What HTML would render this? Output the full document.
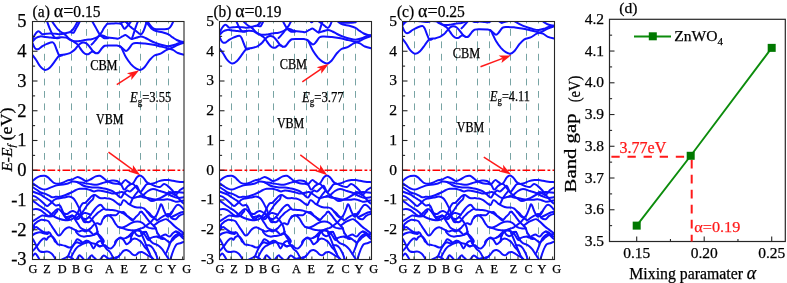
<!DOCTYPE html><html><head><meta charset="utf-8"><style>html,body{margin:0;padding:0;background:#fff;}svg{display:block;will-change:transform;}text{font-family:"Liberation Serif",serif;stroke:#000;stroke-width:0.25px;}</style></head><body>
<svg width="787" height="283" viewBox="0 0 787 283">
<rect x="0" y="0" width="787" height="283" fill="#fff"/>
<clipPath id="clipa"><rect x="32.5" y="21.5" width="151.5" height="238.0"/></clipPath>
<line x1="44.5" y1="21.5" x2="44.5" y2="259.5" stroke="#78a4a4" stroke-width="1" stroke-dasharray="6.8 5.6" stroke-dashoffset="4.90"/>
<line x1="59.5" y1="21.5" x2="59.5" y2="259.5" stroke="#78a4a4" stroke-width="1" stroke-dasharray="6.8 5.6" stroke-dashoffset="4.90"/>
<line x1="71.5" y1="21.5" x2="71.5" y2="259.5" stroke="#78a4a4" stroke-width="1" stroke-dasharray="6.8 5.6" stroke-dashoffset="4.90"/>
<line x1="86.5" y1="21.5" x2="86.5" y2="259.5" stroke="#78a4a4" stroke-width="1" stroke-dasharray="6.8 5.6" stroke-dashoffset="4.90"/>
<line x1="107.5" y1="21.5" x2="107.5" y2="259.5" stroke="#78a4a4" stroke-width="1" stroke-dasharray="6.8 5.6" stroke-dashoffset="4.90"/>
<line x1="119.5" y1="21.5" x2="119.5" y2="259.5" stroke="#78a4a4" stroke-width="1" stroke-dasharray="6.8 5.6" stroke-dashoffset="4.90"/>
<line x1="140.5" y1="21.5" x2="140.5" y2="259.5" stroke="#78a4a4" stroke-width="1" stroke-dasharray="6.8 5.6" stroke-dashoffset="4.90"/>
<line x1="156.5" y1="21.5" x2="156.5" y2="259.5" stroke="#78a4a4" stroke-width="1" stroke-dasharray="6.8 5.6" stroke-dashoffset="4.90"/>
<line x1="168.5" y1="21.5" x2="168.5" y2="259.5" stroke="#78a4a4" stroke-width="1" stroke-dasharray="6.8 5.6" stroke-dashoffset="4.90"/>
<line x1="32.5" y1="170.25" x2="184.0" y2="170.25" stroke="#ff0000" stroke-width="1.7" stroke-dasharray="7.7 2.3 2.8 2.2"/>
<g clip-path="url(#clipa)" fill="none" stroke="#1010ff" stroke-width="2" stroke-linejoin="round" stroke-linecap="round">
<g transform="translate(0.0,0)">
<path d="M32.5,55.0C33.1,55.8 35.0,58.1 36.2,60.0C37.5,61.9 38.5,64.4 40.0,66.1C41.5,67.8 43.3,69.7 45.0,69.9C46.7,70.1 48.4,68.9 50.0,67.4C51.6,66.0 53.4,63.2 54.9,61.2C56.4,59.2 57.6,56.7 59.3,55.6C61.0,54.5 63.1,55.0 64.9,54.6C66.7,54.2 68.6,53.6 69.9,53.1C71.2,52.6 71.6,52.0 72.5,51.4C73.4,50.8 74.3,50.1 75.1,49.3C75.9,48.5 76.4,47.5 77.3,46.5C78.2,45.5 79.2,44.3 80.2,43.6C81.2,42.9 82.3,42.5 83.3,42.5C84.3,42.5 85.4,42.7 86.4,43.4C87.4,44.1 88.4,45.3 89.4,46.5C90.4,47.7 91.5,49.5 92.5,50.6C93.5,51.7 94.6,52.8 95.6,53.1C96.6,53.4 97.6,53.4 98.6,52.6C99.6,51.8 100.7,49.6 101.7,48.5C102.7,47.4 103.5,46.3 104.8,45.8C106.1,45.3 107.6,45.4 109.7,45.4C111.8,45.4 115.4,45.4 117.2,45.6C119.0,45.8 119.6,45.8 120.5,46.5C121.4,47.2 121.5,48.1 122.4,49.9C123.3,51.7 124.6,54.9 126.0,57.3C127.4,59.7 129.3,62.2 130.9,64.1C132.5,65.9 134.2,67.4 135.8,68.4C137.4,69.4 138.8,70.1 140.2,69.9C141.6,69.7 143.0,68.8 144.5,67.2C146.0,65.6 147.8,62.4 149.4,60.4C151.1,58.4 152.5,56.6 154.4,55.5C156.3,54.4 158.6,54.5 160.6,53.6C162.6,52.7 164.8,50.8 166.7,49.9C168.5,49.0 169.8,48.8 171.7,48.0C173.6,47.2 175.7,45.9 177.9,44.9C180.1,43.9 183.8,42.7 185.0,42.2"/>
<path d="M51.3,20.0C51.8,20.9 53.5,23.6 54.6,25.1C55.7,26.6 56.7,28.1 57.7,29.2C58.7,30.3 59.5,30.9 60.7,31.8C61.9,32.7 63.4,33.3 64.8,34.4C66.2,35.5 67.5,37.4 68.9,38.5C70.3,39.6 71.7,40.4 73.0,41.2C74.3,42.0 75.5,42.6 76.5,43.5C77.5,44.4 78.2,45.4 79.0,46.5C79.8,47.6 80.7,49.1 81.5,50.2C82.3,51.3 83.2,52.3 84.0,53.0C84.8,53.7 85.7,54.1 86.5,54.2C87.3,54.3 88.2,54.2 89.0,53.8C89.8,53.4 90.8,52.1 91.5,51.8C92.2,51.5 92.8,51.6 93.5,51.8C94.2,52.0 95.2,52.9 95.6,53.1"/>
<path d="M32.5,41.5C33.1,40.9 34.7,38.9 36.0,38.0C37.3,37.1 38.6,36.6 40.2,36.4C41.8,36.2 43.7,36.7 45.4,36.9C47.1,37.1 48.8,37.2 50.5,37.4C52.2,37.6 53.9,38.0 55.6,38.0C57.4,38.0 59.3,37.3 61.0,37.2C62.7,37.1 64.6,37.2 66.0,37.6C67.4,38.0 68.3,39.0 69.5,39.6C70.7,40.2 71.8,40.7 73.0,41.0C74.2,41.3 75.6,41.3 77.0,41.3C78.4,41.3 79.6,41.0 81.2,40.8C82.8,40.5 84.7,40.0 86.4,39.8C88.1,39.5 90.0,39.6 91.5,39.3C93.0,39.0 94.4,38.3 95.6,37.8C96.8,37.3 97.6,36.8 98.6,36.4C99.6,36.0 100.4,35.2 101.5,35.2C102.6,35.2 103.9,36.1 105.0,36.5C106.1,36.9 106.3,37.2 108.0,37.5C109.7,37.8 113.3,38.0 115.0,38.2C116.7,38.4 117.1,38.9 118.3,38.6C119.5,38.3 121.2,37.0 122.4,36.4C123.6,35.8 124.5,34.8 125.5,34.9C126.5,35.0 127.5,36.3 128.5,37.0C129.5,37.7 130.3,38.9 131.6,39.0C132.8,39.1 134.4,38.2 136.0,37.8C137.6,37.4 139.3,36.4 140.9,36.4C142.5,36.4 144.0,37.3 145.5,38.0C147.0,38.7 148.3,39.6 150.1,40.5C151.9,41.4 154.2,42.4 156.2,43.1C158.2,43.9 159.9,44.5 162.0,45.0C164.1,45.5 166.4,46.2 168.5,46.2C170.6,46.2 172.8,45.4 174.7,44.8C176.6,44.2 178.1,43.1 179.8,42.6C181.5,42.1 184.1,41.9 185.0,41.8"/>
<path d="M119.8,46.2C120.2,46.6 121.5,47.5 122.5,48.3C123.5,49.1 124.9,51.0 126.0,51.0C127.1,51.0 127.9,49.7 129.0,48.5C130.1,47.3 131.4,44.7 132.7,43.8C134.0,42.9 134.9,43.1 137.0,43.1C139.1,43.1 142.5,43.4 145.0,43.6C147.5,43.9 149.5,44.2 151.9,44.6C154.3,45.0 156.8,45.6 159.3,46.2C161.8,46.8 164.4,47.4 166.7,48.0C169.0,48.6 171.0,49.1 172.9,49.9C174.8,50.7 175.9,52.1 177.9,53.0C179.9,53.9 183.8,54.7 185.0,55.0"/>
<path d="M32.5,43.0C32.8,43.8 33.8,46.5 34.5,47.5C35.2,48.5 35.8,49.1 36.5,49.3C37.2,49.5 38.0,49.3 39.0,48.8C40.0,48.3 41.1,47.1 42.5,46.2C43.9,45.4 45.8,44.4 47.4,43.7C49.0,43.1 51.2,42.2 52.4,42.3C53.6,42.4 53.9,43.2 54.6,44.5C55.3,45.8 56.0,48.1 56.8,50.0C57.6,51.9 58.4,54.7 59.3,55.6C60.2,56.5 61.5,55.5 62.0,55.5"/>
<path d="M46.6,20.0C46.9,20.9 47.8,23.4 48.4,25.1C49.0,26.8 49.8,28.8 50.5,30.3C51.2,31.9 51.8,33.2 52.5,34.4C53.2,35.6 53.9,36.8 54.6,37.4C55.4,38.0 56.1,38.2 57.0,38.2C57.9,38.2 59.5,37.6 60.0,37.5"/>
<path d="M32.5,39.5C32.9,38.7 34.1,35.9 35.0,34.5C35.9,33.1 37.0,31.8 37.8,31.4C38.6,30.9 38.9,31.3 39.7,31.8C40.5,32.3 40.8,33.9 42.4,34.2C44.0,34.5 47.2,33.5 49.4,33.4C51.6,33.3 53.8,33.7 55.6,33.8C57.4,33.9 58.4,34.3 60.0,34.2C61.6,34.1 63.3,33.7 65.0,33.3C66.7,32.9 68.8,32.5 70.0,32.0C71.2,31.4 71.6,31.1 72.5,30.0C73.4,28.9 74.5,27.2 75.5,25.5C76.5,23.8 77.8,20.9 78.2,20.0"/>
<path d="M70.4,32.2C70.9,32.3 72.7,33.2 73.5,32.8C74.3,32.3 74.8,30.8 75.5,29.5C76.2,28.2 77.2,26.6 78.0,25.0C78.8,23.4 80.1,20.8 80.5,20.0"/>
<path d="M91.5,44.6C91.8,44.3 92.7,43.6 93.5,42.6C94.3,41.6 95.6,40.2 96.6,38.9C97.6,37.6 98.8,35.8 99.7,34.7C100.6,33.6 101.0,33.4 101.7,32.3C102.4,31.2 103.3,29.1 104.0,28.0C104.7,26.9 105.2,26.3 105.8,25.6C106.4,24.9 106.6,24.2 107.6,23.8C108.6,23.4 109.9,23.4 112.0,23.4C114.1,23.4 118.7,23.2 120.4,23.6C122.2,24.0 121.8,25.1 122.5,26.0C123.2,26.9 123.8,28.5 124.5,28.7C125.2,28.9 125.7,27.8 126.5,27.0C127.3,26.2 128.2,25.2 129.1,24.1C129.9,23.0 131.2,21.1 131.6,20.5"/>
<path d="M91.5,20.0C92.2,21.2 94.2,24.8 95.6,27.2C97.0,29.6 98.3,32.6 99.7,34.4C101.1,36.2 102.4,37.4 103.8,38.0C105.2,38.6 107.3,38.2 108.0,38.2"/>
<path d="M120.4,23.6C120.8,23.4 121.7,22.5 122.5,22.2C123.3,21.9 124.2,21.5 125.0,21.6C125.8,21.7 126.3,22.2 127.0,22.6C127.7,23.0 128.8,23.9 129.1,24.1"/>
<path d="M125.0,20.5C125.6,21.3 127.4,23.8 128.6,25.1C129.8,26.4 131.0,27.2 132.2,28.2C133.4,29.1 134.6,30.0 135.7,30.8C136.8,31.6 137.9,32.7 138.8,33.3C139.7,33.9 140.2,34.6 140.9,34.4C141.6,34.2 142.2,33.5 142.9,32.3C143.6,31.1 144.4,28.9 145.0,27.2C145.6,25.5 146.2,23.3 146.5,22.1C146.8,20.9 146.9,20.4 147.0,20.0"/>
<path d="M138.5,20.0C138.2,20.8 137.1,23.3 136.5,25.0C135.9,26.7 135.2,28.6 134.7,30.3C134.1,32.0 133.7,33.5 133.2,35.0C132.7,36.5 132.0,38.3 131.8,39.0"/>
<path d="M147.0,20.5C147.5,21.3 149.1,23.8 150.1,25.1C151.1,26.4 152.2,27.5 153.2,28.2C154.2,28.9 154.7,29.0 156.2,29.2C157.7,29.4 160.3,29.3 162.4,29.2C164.5,29.1 167.0,29.4 168.5,28.7C170.0,28.0 170.8,26.5 171.6,25.1C172.4,23.7 173.3,21.3 173.6,20.5"/>
<path d="M145.0,20.5C145.7,21.3 147.8,24.1 149.0,25.5C150.2,26.9 150.8,28.1 152.0,29.0C153.2,29.9 154.3,30.4 156.0,31.0C157.7,31.6 160.3,31.7 162.4,32.3C164.5,32.9 166.8,33.5 168.5,34.4C170.2,35.2 171.2,36.5 172.6,37.4C174.0,38.3 175.3,39.3 176.7,40.0C178.1,40.7 179.4,41.2 180.8,41.5C182.2,41.8 184.3,41.9 185.0,42.0"/>
</g>
<g transform="translate(0.0,0)">
<path d="M32.5,181.1C33.1,180.6 35.0,178.7 36.4,177.9C37.8,177.1 39.2,176.4 40.6,176.1C42.0,175.8 43.6,175.6 44.8,175.8C46.0,176.0 46.9,176.6 48.0,177.4C49.1,178.2 50.1,179.6 51.2,180.6C52.3,181.6 53.2,182.7 54.4,183.2C55.6,183.7 57.2,183.9 58.6,183.8C60.0,183.7 61.4,183.2 62.8,182.7C64.2,182.2 65.5,181.1 67.1,180.6C68.7,180.1 70.6,180.1 72.4,179.5C74.2,178.9 75.9,176.9 77.7,176.9C79.5,176.9 81.6,178.8 83.0,179.5C84.4,180.2 84.9,181.1 86.1,181.1C87.3,181.1 88.8,180.3 90.4,179.5C92.0,178.7 94.1,177.0 95.7,176.4C97.3,175.8 98.5,175.5 99.9,175.8C101.3,176.2 102.8,177.6 104.0,178.5C105.2,179.4 105.8,180.4 107.2,181.2C108.6,182.0 110.7,182.8 112.5,183.2C114.3,183.6 116.4,183.6 117.8,183.8C119.2,184.0 119.8,184.9 121.0,184.3C122.2,183.7 123.9,180.4 125.2,180.1C126.5,179.8 127.8,181.9 129.0,182.5C130.2,183.1 131.3,184.7 132.6,183.8C133.9,183.0 135.6,178.8 136.8,177.4C138.0,176.0 138.9,175.4 140.0,175.4C141.1,175.4 142.1,176.4 143.2,177.4C144.3,178.4 145.3,180.6 146.4,181.7C147.5,182.8 148.3,183.6 149.6,183.8C150.9,184.1 152.4,183.6 154.0,183.2C155.6,182.8 157.4,181.6 159.1,181.1C160.8,180.6 162.8,180.3 164.4,180.1C166.0,179.9 167.2,180.0 168.6,180.1C170.0,180.2 171.4,180.5 173.0,180.8C174.6,181.1 176.2,181.5 178.2,181.7C180.2,181.9 183.9,182.1 185.0,182.2"/>
<path d="M32.5,183.2C33.1,183.6 35.0,185.0 36.4,185.9C37.8,186.8 39.2,187.9 40.6,188.5C42.0,189.1 43.2,189.7 44.8,189.6C46.3,189.5 47.9,188.6 49.9,187.9C51.9,187.2 54.4,186.0 56.6,185.4C58.8,184.8 61.3,184.9 63.2,184.6C65.1,184.3 66.5,184.0 68.0,183.5C69.5,183.0 70.8,181.7 72.4,181.5C74.0,181.3 75.6,181.9 77.7,182.2C79.8,182.5 82.8,182.8 85.1,183.2C87.4,183.5 89.5,184.0 91.4,184.3C93.3,184.6 94.9,185.0 96.7,184.8C98.5,184.6 100.2,183.7 102.0,183.2C103.8,182.7 105.6,182.1 107.3,181.7C109.0,181.3 110.4,180.7 112.0,180.6C113.6,180.5 115.5,180.4 117.0,181.0C118.5,181.6 119.8,182.9 121.0,184.3C122.2,185.7 122.9,189.3 124.1,189.6C125.3,189.9 126.6,187.0 128.0,186.0C129.4,185.0 131.3,183.6 132.6,183.8C133.9,184.0 134.8,185.6 136.0,187.0C137.2,188.4 138.7,190.7 140.0,192.2C141.3,193.7 142.7,194.9 144.0,196.0C145.3,197.1 146.7,198.2 148.0,199.0C149.3,199.8 150.3,201.0 152.0,201.0C153.7,201.0 156.0,199.8 158.0,199.0C160.0,198.2 162.0,197.0 164.0,196.0C166.0,195.0 168.0,193.7 170.0,193.0C172.0,192.3 173.5,192.0 176.0,192.0C178.5,192.0 183.5,192.8 185.0,193.0"/>
<path d="M76.6,182.1C76.8,182.1 76.8,181.9 77.7,182.4C78.6,182.9 80.6,184.3 82.0,185.0C83.4,185.7 84.3,186.1 86.0,186.5C87.7,186.9 90.0,187.3 92.0,187.5C94.0,187.7 96.0,187.3 98.0,187.5C100.0,187.7 102.3,188.2 104.0,188.5C105.7,188.8 106.6,189.1 108.0,189.5C109.4,189.9 110.9,190.2 112.5,191.2C114.1,192.2 116.4,194.3 117.8,195.4C119.2,196.5 120.0,197.9 121.0,197.5C122.0,197.1 123.1,194.2 124.1,193.0C125.1,191.8 126.0,190.8 127.0,190.5C128.0,190.2 128.8,191.9 130.0,191.5C131.2,191.1 132.8,188.9 134.0,188.0C135.2,187.1 136.0,185.3 137.0,186.0C138.0,186.7 139.0,191.7 140.0,192.2C141.0,192.7 141.9,190.3 143.0,189.0C144.1,187.7 145.3,185.4 146.4,184.5C147.5,183.6 148.2,183.6 149.6,183.8C151.0,184.1 153.3,185.5 155.0,186.0C156.7,186.5 158.5,187.3 160.0,187.0C161.5,186.7 162.7,184.2 164.0,184.0C165.3,183.8 166.3,184.9 167.6,185.9C168.9,186.9 170.6,188.6 172.0,190.0C173.4,191.4 174.7,194.4 176.0,194.4C177.3,194.4 178.5,191.2 180.0,190.0C181.5,188.8 184.2,187.5 185.0,187.0"/>
<path d="M32.5,187.1C33.1,187.5 35.0,188.6 36.4,189.5C37.8,190.4 39.2,191.8 40.6,192.5C42.0,193.2 43.4,193.1 44.8,193.6C46.2,194.1 47.9,195.1 49.1,195.7C50.3,196.3 51.1,197.1 52.2,197.3C53.3,197.5 54.2,196.9 55.5,196.8C56.8,196.7 58.1,197.1 59.7,196.8C61.3,196.5 63.1,195.9 65.0,195.2C66.9,194.5 69.5,193.4 71.3,192.5C73.1,191.6 74.6,190.6 76.0,190.0C77.4,189.4 78.3,189.0 79.8,188.8C81.3,188.6 83.4,188.6 85.1,188.8C86.8,189.0 88.5,189.6 90.0,190.0C91.5,190.4 92.7,191.4 94.0,191.5C95.3,191.6 96.5,190.5 97.8,190.4C99.1,190.3 100.5,190.7 102.0,191.0C103.5,191.3 105.3,191.6 107.0,192.0C108.7,192.4 110.3,193.3 112.0,193.5C113.7,193.7 115.3,193.2 117.0,193.0C118.7,192.8 120.3,191.7 122.0,192.0C123.7,192.3 125.3,194.0 127.0,195.0C128.7,196.0 130.3,197.7 132.0,198.0C133.7,198.3 135.3,197.3 137.0,197.0C138.7,196.7 140.2,197.0 142.0,196.0C143.8,195.0 146.2,192.2 148.0,191.0C149.8,189.8 151.0,189.0 153.0,189.0C155.0,189.0 157.8,190.3 160.0,191.0C162.2,191.7 164.0,192.2 166.0,193.0C168.0,193.8 170.0,195.2 172.0,196.0C174.0,196.8 175.8,197.8 178.0,198.0C180.2,198.2 183.8,197.2 185.0,197.0"/>
<path d="M32.5,191.5C33.1,191.8 35.0,192.5 36.4,193.0C37.8,193.5 39.2,193.9 40.6,194.7C42.0,195.4 43.6,196.7 44.8,197.5C46.0,198.3 46.9,198.8 48.0,199.5C49.1,200.2 50.0,200.5 51.2,201.5C52.4,202.5 54.0,204.7 55.4,205.3C56.8,205.9 58.5,204.3 59.7,205.3C60.9,206.3 61.9,209.6 62.8,211.5C63.7,213.4 64.3,215.8 65.3,216.6C66.3,217.4 67.8,216.8 68.9,216.6C70.0,216.4 71.0,215.4 72.0,215.6C73.0,215.8 74.1,217.4 75.1,217.6C76.1,217.8 77.2,217.2 78.2,216.6C79.2,216.0 80.0,215.1 81.0,214.0C82.0,212.9 83.0,211.4 84.0,210.0C85.0,208.6 86.0,206.8 87.0,205.5C88.0,204.2 89.0,203.1 90.0,202.0C91.0,200.9 92.3,200.1 93.0,199.0C93.7,197.9 93.8,195.9 94.0,195.3"/>
<path d="M32.5,195.7C33.1,195.9 34.8,196.3 36.0,197.0C37.2,197.7 38.7,198.9 40.0,200.0C41.3,201.1 42.6,202.5 43.8,203.5C45.0,204.5 46.0,205.9 47.0,206.0C48.0,206.1 48.8,205.0 50.0,204.0C51.2,203.0 52.7,200.9 54.0,200.0C55.3,199.1 56.8,198.8 58.0,198.5C59.2,198.2 60.0,198.2 61.0,198.0C62.0,197.8 62.5,197.8 63.8,197.6C65.1,197.4 67.4,196.5 68.9,196.6C70.4,196.7 71.8,197.2 73.0,198.1C74.2,199.0 75.2,200.8 76.1,202.2C77.0,203.6 77.5,204.9 78.2,206.3C78.9,207.7 79.7,209.0 80.2,210.4C80.7,211.8 80.8,213.1 81.2,214.5C81.6,215.9 82.0,217.8 82.5,219.0C83.0,220.2 83.2,221.5 84.0,222.0C84.8,222.5 86.8,221.9 87.4,221.9"/>
<path d="M32.5,200.6C33.1,201.0 34.8,202.1 36.0,203.0C37.2,203.9 38.7,205.1 40.0,206.0C41.3,206.9 42.6,207.8 43.8,208.6C45.0,209.3 45.8,209.6 47.0,210.5C48.2,211.4 49.7,212.9 51.0,214.0C52.3,215.1 53.5,216.2 55.0,217.0C56.5,217.8 58.5,218.5 60.0,219.0C61.5,219.5 62.5,219.8 64.0,220.0C65.5,220.2 67.5,220.2 68.9,220.0C70.3,219.8 71.4,219.6 72.4,219.0C73.4,218.4 74.1,217.7 75.0,216.5C75.9,215.3 77.2,213.5 78.0,212.0C78.8,210.5 79.2,208.9 80.0,207.5C80.8,206.1 81.6,204.3 82.5,203.5C83.4,202.7 84.5,203.3 85.6,202.6C86.7,201.8 87.9,200.1 89.0,199.0C90.1,197.9 91.0,196.7 92.0,196.0C93.0,195.3 93.7,194.7 95.0,195.0C96.3,195.3 98.3,197.5 100.0,198.0C101.7,198.5 103.5,198.0 105.0,198.1C106.5,198.2 107.6,198.2 109.0,198.5C110.4,198.8 111.8,199.4 113.2,200.2C114.6,201.0 116.1,202.5 117.3,203.3C118.5,204.1 119.5,205.5 120.5,205.0C121.5,204.5 122.4,200.7 123.4,200.2C124.4,199.7 125.5,201.3 126.5,202.0C127.5,202.7 128.6,204.8 129.6,204.3C130.6,203.8 131.6,200.6 132.5,199.0C133.4,197.4 134.0,196.4 135.0,195.0C136.0,193.6 138.1,191.2 138.7,190.5"/>
<path d="M32.5,209.5C33.1,209.4 34.8,208.9 36.0,209.0C37.2,209.1 38.8,209.5 40.0,210.0C41.2,210.5 42.0,211.2 43.0,212.0C44.0,212.8 45.0,213.8 46.0,214.5C47.0,215.2 48.0,216.1 49.0,216.0C50.0,215.9 51.0,214.8 52.0,214.0C53.0,213.2 54.0,211.8 55.0,211.0C56.0,210.2 57.0,209.0 58.0,209.0C59.0,209.0 60.0,210.2 61.0,211.0C62.0,211.8 63.0,213.0 64.0,213.5C65.0,214.0 66.0,214.2 67.0,214.0C68.0,213.8 69.0,212.5 70.0,212.0C71.0,211.5 71.8,210.8 73.0,211.0C74.2,211.2 75.8,212.2 77.0,213.0C78.2,213.8 79.0,215.1 80.0,216.0C81.0,216.9 82.0,218.0 83.0,218.5C84.0,219.0 85.0,219.2 86.0,219.0C87.0,218.8 88.0,218.0 89.0,217.0C90.0,216.0 91.0,214.3 92.0,213.0C93.0,211.7 94.0,210.2 95.0,209.0C96.0,207.8 97.0,206.7 98.0,206.0C99.0,205.3 99.8,204.4 101.0,205.0C102.2,205.6 103.5,208.6 105.0,209.4C106.5,210.2 108.4,209.7 110.1,209.9C111.8,210.1 113.5,210.1 115.2,210.4C116.9,210.8 119.0,211.5 120.4,212.0C121.8,212.5 122.4,212.9 123.4,213.5C124.4,214.1 125.5,214.9 126.5,215.6C127.5,216.3 128.6,216.9 129.6,217.6C130.6,218.2 132.0,219.1 132.5,219.5C133.0,219.9 132.6,220.1 132.7,220.2"/>
<path d="M129.6,204.3C130.4,204.8 133.3,206.5 134.7,207.0C136.1,207.5 136.8,207.4 137.8,207.5C138.8,207.6 139.9,207.3 140.9,207.5C141.9,207.7 142.9,207.7 143.9,208.4C144.9,209.1 146.0,210.3 147.0,211.5C148.0,212.7 149.1,214.6 150.1,215.6C151.1,216.6 152.2,217.6 153.2,217.6C154.2,217.6 155.2,217.1 156.2,215.6C157.2,214.1 158.5,210.3 159.3,208.4C160.1,206.5 160.3,204.7 160.8,204.3C161.3,204.0 161.8,205.1 162.4,206.3C163.0,207.5 163.6,209.8 164.4,211.5C165.2,213.2 166.5,216.1 167.5,216.6C168.5,217.1 169.6,215.7 170.6,214.5C171.6,213.3 172.6,210.9 173.6,209.4C174.6,207.9 175.7,206.0 176.7,205.3C177.7,204.6 178.8,204.8 179.8,205.3C180.8,205.8 182.0,207.6 182.9,208.4C183.8,209.2 184.7,210.1 185.0,210.4"/>
<path d="M139.0,196.6C139.2,196.5 139.2,195.8 140.0,196.0C140.8,196.2 142.7,197.2 144.0,197.5C145.3,197.8 146.5,197.8 148.0,198.1C149.5,198.4 151.5,198.9 153.2,199.2C154.9,199.5 156.6,199.6 158.3,199.7C160.0,199.8 161.9,199.8 163.4,199.7C164.9,199.6 166.1,199.1 167.5,199.2C168.9,199.3 170.2,199.8 171.6,200.2C173.0,200.6 174.3,201.5 175.7,201.7C177.1,201.9 178.2,201.4 179.8,201.2C181.4,200.9 184.1,200.4 185.0,200.2"/>
<path d="M167.0,193.5C167.5,193.2 169.0,191.9 170.0,192.0C171.0,192.1 171.9,193.3 173.0,194.0C174.1,194.7 175.5,195.0 176.7,196.0C177.9,197.0 178.9,198.8 180.0,200.0C181.1,201.2 182.2,202.3 183.0,203.0C183.8,203.7 184.7,203.8 185.0,204.0"/>
<path d="M171.0,217.3C171.1,217.3 170.6,217.5 171.6,217.0C172.6,216.5 175.2,215.2 176.7,214.5C178.2,213.8 179.4,213.0 180.8,212.5C182.2,212.0 184.3,211.7 185.0,211.5"/>
<path d="M32.0,221.7C32.7,221.3 35.0,219.9 36.1,219.2C37.3,218.4 38.2,217.7 39.2,217.1C40.2,216.5 41.1,215.8 42.3,215.6C43.5,215.4 45.0,215.9 46.4,216.1C47.8,216.3 49.3,216.7 50.5,216.6C51.7,216.5 52.7,216.2 53.6,215.6C54.4,215.0 55.0,213.7 55.6,213.0C56.2,212.3 56.9,212.0 57.1,211.5C57.4,210.9 57.0,210.0 57.0,209.7"/>
<path d="M34.1,228.4C34.1,227.8 33.8,225.7 34.1,224.8C34.4,223.9 35.5,223.4 36.1,222.8C36.8,222.2 37.3,221.7 38.2,221.2C39.1,220.7 40.1,219.9 41.3,219.7C42.5,219.5 44.2,219.9 45.4,220.2C46.6,220.5 47.6,220.5 48.4,221.2C49.3,221.9 49.8,223.3 50.5,224.3C51.2,225.3 51.9,226.3 52.5,227.4C53.2,228.4 53.9,229.4 54.6,230.4C55.3,231.5 56.0,232.7 56.6,233.5C57.3,234.4 58.0,235.4 58.7,235.6C59.4,235.7 59.9,235.4 60.7,234.5C61.6,233.7 62.8,231.6 63.8,230.4C64.8,229.3 65.9,228.4 66.9,227.9C67.9,227.4 68.9,227.2 70.0,227.4C71.0,227.5 72.0,228.4 73.0,228.9C74.1,229.4 75.1,230.0 76.1,230.4C77.1,230.9 78.2,231.5 79.2,231.5C80.2,231.5 81.2,230.4 82.2,230.4C83.3,230.4 84.3,231.6 85.3,231.5C86.4,231.4 87.4,230.6 88.4,229.9C89.4,229.2 90.5,228.3 91.5,227.4C92.5,226.4 93.5,225.0 94.5,224.3C95.6,223.6 96.6,223.3 97.6,223.3C98.6,223.3 99.8,225.0 100.7,224.3C101.6,223.6 101.9,220.5 102.8,219.2C103.6,217.8 104.6,216.8 105.8,216.1C107.0,215.4 108.3,215.2 110.0,215.1C111.7,214.9 114.5,215.6 116.1,215.1C117.6,214.5 118.8,212.2 119.4,211.7"/>
<path d="M32.0,231.5C32.4,231.0 33.4,229.2 34.1,228.4C34.8,227.6 35.5,226.9 36.1,226.9C36.8,226.9 37.5,227.9 38.2,228.4C38.9,228.9 39.4,229.3 40.2,229.9C41.1,230.5 42.3,231.6 43.3,232.0C44.3,232.4 45.4,232.4 46.4,232.5C47.4,232.6 48.6,232.0 49.5,232.5C50.3,233.0 50.8,234.5 51.5,235.6C52.2,236.6 53.0,237.6 53.6,238.6C54.2,239.7 54.6,241.1 55.1,241.7C55.6,242.3 56.2,242.2 56.4,242.2"/>
<path d="M32.0,235.6C32.6,235.2 34.1,234.0 35.1,233.5C36.1,233.0 37.2,232.7 38.2,232.5C39.2,232.3 40.2,232.3 41.3,232.5C42.3,232.7 43.3,233.3 44.3,233.5C45.4,233.8 46.7,234.2 47.4,234.0C48.1,233.9 48.3,232.7 48.4,232.5"/>
<path d="M61.0,211.0C61.1,211.2 61.3,211.3 61.8,212.0C62.2,212.7 63.1,214.0 63.8,215.1C64.5,216.1 65.2,217.5 65.9,218.2C66.5,218.8 67.1,219.4 67.9,219.2C68.8,218.9 70.1,217.1 71.0,216.6C71.8,216.1 72.3,216.0 73.0,216.1C73.7,216.2 74.4,216.6 75.1,217.1C75.8,217.6 76.4,219.0 77.1,219.2C77.8,219.3 78.5,218.8 79.2,218.2C79.9,217.5 80.5,215.8 81.2,215.1C81.9,214.3 82.6,213.9 83.3,213.5C84.0,213.2 84.1,212.8 85.3,213.0C86.6,213.2 89.9,214.3 90.8,214.6"/>
<path d="M72.0,215.6C72.2,215.7 72.3,215.2 73.0,216.1C73.7,217.0 75.3,219.9 76.1,221.2C77.0,222.6 77.5,223.3 78.2,224.3C78.8,225.3 79.3,226.5 80.2,227.4C81.1,228.2 82.3,228.9 83.3,229.4C84.3,229.9 85.3,230.2 86.3,230.4C87.4,230.7 88.2,230.2 89.4,230.9C90.6,231.7 92.8,234.2 93.5,234.8"/>
<path d="M77.8,213.8C78.0,213.8 78.4,213.3 79.2,214.1C79.9,214.8 81.2,217.0 82.2,218.2C83.3,219.3 84.3,220.5 85.3,221.2C86.4,221.9 87.4,222.4 88.4,222.2C89.4,222.1 90.6,221.1 91.5,220.2C92.3,219.3 92.8,218.0 93.5,217.1C94.2,216.3 94.9,215.8 95.6,215.1C96.3,214.4 96.9,213.6 97.6,213.0C98.3,212.4 98.6,212.2 99.7,211.5C100.8,210.7 103.4,209.0 104.2,208.5"/>
<path d="M89.0,217.0C89.4,217.4 90.6,218.1 91.5,219.2C92.4,220.2 93.7,221.9 94.5,223.3C95.4,224.6 96.1,225.8 96.6,227.4C97.1,228.9 97.3,231.1 97.6,232.5C98.0,233.9 98.1,234.5 98.7,235.6C99.2,236.6 100.0,237.6 100.7,238.6C101.4,239.7 102.5,241.0 102.8,241.7C103.0,242.4 102.1,242.7 101.9,242.9"/>
<path d="M94.5,234.4C94.7,234.3 94.9,233.5 95.6,233.5C96.3,233.5 97.6,233.9 98.7,234.5C99.7,235.2 100.9,236.5 101.7,237.6C102.6,238.7 103.6,240.0 103.8,241.0C103.9,242.0 102.7,243.2 102.5,243.7"/>
<path d="M32.0,251.5C32.6,251.0 34.1,249.6 35.1,248.4C36.1,247.2 37.2,245.7 38.2,244.3C39.2,242.9 40.2,241.2 41.3,240.2C42.3,239.2 43.5,238.2 44.3,238.2C45.2,238.1 45.7,239.9 46.4,239.7C47.1,239.5 47.6,237.7 48.4,237.1C49.3,236.5 50.5,235.8 51.5,236.1C52.5,236.4 53.6,237.8 54.6,239.2C55.6,240.5 56.6,243.4 57.7,244.3C58.7,245.2 59.5,244.6 60.7,244.8C61.9,245.1 63.5,245.4 64.8,245.8C66.2,246.3 67.7,247.2 68.9,247.4C70.1,247.5 71.0,247.7 72.0,246.9C73.0,246.0 74.2,243.5 75.1,242.2C75.9,241.0 76.3,239.4 77.1,239.2C78.0,238.9 79.3,240.1 80.2,240.7C81.1,241.3 81.9,242.3 82.2,242.6"/>
<path d="M32.0,238.2C32.4,238.7 33.4,240.0 34.1,241.2C34.8,242.4 35.5,244.0 36.1,245.3C36.8,246.7 37.5,248.4 38.2,249.4C38.9,250.4 39.4,251.0 40.2,251.5C41.1,251.9 42.1,252.0 43.3,252.0C44.5,252.0 46.1,251.2 47.4,251.5C48.8,251.7 50.3,252.5 51.5,253.5C52.7,254.5 53.9,256.4 54.6,257.6C55.3,258.8 55.4,260.2 55.6,260.7"/>
<path d="M32.0,256.6C32.6,256.1 34.3,253.7 35.1,253.5C36.0,253.4 36.5,254.6 37.2,255.6C37.9,256.5 38.9,258.6 39.2,259.1"/>
<path d="M67.9,256.6C68.4,255.4 70.0,251.5 71.0,249.4C72.0,247.4 73.0,245.5 74.1,244.3C75.1,243.1 76.1,242.4 77.1,242.2C78.2,242.1 79.2,243.3 80.2,243.3C81.2,243.3 82.3,242.7 83.3,242.2C84.3,241.8 85.3,240.8 86.3,240.7C87.4,240.6 88.6,241.0 89.4,241.7C90.3,242.5 90.8,244.2 91.5,245.3C92.2,246.4 92.8,248.4 93.5,248.4C94.2,248.4 94.9,246.3 95.6,245.3C96.3,244.3 96.8,242.9 97.6,242.2C98.5,241.6 99.7,240.7 100.7,241.2C101.7,241.7 102.7,244.0 103.8,245.3C104.8,246.7 105.8,248.3 106.8,249.4C107.9,250.5 109.0,250.6 110.0,252.0C111.1,253.4 112.7,257.0 113.2,258.0"/>
<path d="M71.0,257.6C71.5,256.6 73.0,253.2 74.1,251.5C75.1,249.8 76.1,248.4 77.1,247.4C78.2,246.3 79.0,246.0 80.2,245.3C81.4,244.6 82.9,243.8 84.3,243.3C85.7,242.8 87.0,242.2 88.4,242.2C89.8,242.2 91.1,242.9 92.5,243.3C93.9,243.6 95.4,243.8 96.6,244.3C97.8,244.8 99.0,246.1 99.7,246.3C100.4,246.6 100.7,246.1 100.9,246.0"/>
<path d="M76.1,230.4C76.1,230.7 75.6,231.2 76.1,232.0C76.6,232.8 78.0,234.3 79.2,235.1C80.4,235.8 81.9,236.4 83.3,236.6C84.6,236.8 86.0,236.3 87.4,236.1C88.7,235.9 90.1,235.9 91.5,235.6C92.8,235.2 94.5,234.6 95.6,234.1C96.6,233.5 97.3,232.4 97.6,232.0C97.9,231.6 97.5,231.6 97.4,231.5"/>
<path d="M57.7,261.7C58.9,261.1 63.1,259.0 64.8,258.1C66.5,257.3 66.9,256.7 67.9,256.6C68.9,256.5 70.1,257.2 71.0,257.6C71.8,258.0 72.7,258.6 73.0,258.8"/>
<path d="M77.1,258.8C77.5,258.3 78.5,255.7 79.2,255.4C79.9,255.0 80.5,256.0 81.2,256.6C81.9,257.2 82.9,258.5 83.3,258.8"/>
<path d="M88.4,258.8C88.9,258.3 90.6,255.7 91.5,255.4C92.3,255.1 92.8,256.5 93.5,257.1C94.2,257.7 95.2,258.5 95.6,258.8"/>
<path d="M100.7,258.8C101.2,258.3 102.7,255.6 103.8,255.4C104.8,255.2 106.0,257.0 106.8,257.6C107.7,258.2 108.5,258.6 108.9,258.8"/>
<path d="M104.3,217.6C104.4,217.4 104.2,216.4 105.0,216.1C105.8,215.8 107.9,215.2 109.1,215.6C110.3,215.9 111.1,216.9 112.2,218.2C113.2,219.4 114.2,221.8 115.2,223.3C116.3,224.7 117.1,226.2 118.3,226.9C119.5,227.5 121.1,227.5 122.4,227.4C123.8,227.2 125.2,226.5 126.5,225.8C127.9,225.1 129.2,224.0 130.6,223.3C132.0,222.6 133.2,222.0 134.7,221.7C136.2,221.5 138.5,221.5 139.8,221.7C141.2,222.0 141.9,222.5 142.9,223.3C143.9,224.0 145.0,225.6 146.0,226.3C147.0,227.1 148.0,227.5 149.1,227.9C150.1,228.2 151.0,228.3 152.1,228.4C153.2,228.5 155.0,228.4 155.6,228.4"/>
<path d="M118.3,226.9C118.5,226.9 118.3,227.0 119.3,227.4C120.4,227.7 122.9,228.5 124.5,228.9C126.0,229.3 127.2,229.7 128.6,229.9C129.9,230.2 131.3,230.4 132.7,230.4C134.0,230.4 135.4,230.3 136.8,229.9C138.1,229.6 139.7,228.8 140.9,228.4C142.1,228.0 142.7,228.1 143.9,227.4C145.1,226.7 146.8,225.2 148.0,224.3C149.2,223.4 150.1,222.8 151.1,221.7C152.1,220.7 153.7,218.7 154.2,218.2"/>
<path d="M121.4,212.5C121.7,212.4 122.6,211.6 123.4,212.0C124.3,212.4 125.5,214.0 126.5,215.1C127.5,216.1 128.6,217.3 129.6,218.2C130.6,219.0 131.6,220.4 132.7,220.2C133.7,220.0 134.7,218.1 135.7,217.1C136.8,216.1 138.0,214.9 138.8,214.1C139.6,213.2 139.8,212.3 140.3,212.0C140.9,211.7 141.6,212.0 141.9,212.0"/>
<path d="M140.3,212.0C140.6,212.0 141.0,211.1 141.9,212.0C142.8,212.9 144.8,215.6 146.0,217.1C147.2,218.7 148.0,220.0 149.1,221.2C150.1,222.4 151.1,223.3 152.1,224.3C153.2,225.3 154.3,226.0 155.2,227.4C156.1,228.7 156.6,231.1 157.2,232.5C157.9,233.9 158.7,234.5 159.3,235.6C159.9,236.6 160.0,238.1 160.8,238.6C161.7,239.2 163.8,238.8 164.4,238.8"/>
<path d="M147.0,211.5C147.2,211.6 147.3,211.4 148.0,212.0C148.7,212.6 150.1,214.0 151.1,215.1C152.1,216.1 153.2,217.3 154.2,218.2C155.2,219.0 156.2,220.2 157.2,220.2C158.3,220.2 159.3,218.8 160.3,218.2C161.4,217.5 162.4,216.6 163.4,216.1C164.4,215.6 165.5,215.4 166.5,215.1C167.5,214.7 168.7,214.6 169.6,214.1C170.4,213.5 171.1,212.4 171.6,212.0C172.1,211.6 172.3,211.5 172.4,211.4"/>
<path d="M153.7,225.8C153.7,225.8 153.4,225.9 154.2,225.3C155.0,224.7 156.9,223.1 158.3,222.2C159.6,221.4 161.0,220.7 162.4,220.2C163.7,219.7 165.1,218.8 166.5,219.2C167.8,219.5 169.2,221.1 170.6,222.2C171.9,223.4 173.3,225.1 174.7,226.3C176.0,227.5 177.4,228.4 178.8,229.4C180.1,230.4 181.5,231.7 182.9,232.5C184.2,233.3 186.3,233.8 187.0,234.0"/>
<path d="M166.3,214.6C166.6,214.5 167.6,213.5 168.5,214.1C169.4,214.6 170.4,217.3 171.6,218.2C172.8,219.0 174.5,219.5 175.7,219.2C176.9,218.8 177.6,217.0 178.8,216.1C180.0,215.2 181.5,214.5 182.9,214.1C184.2,213.6 186.3,213.6 187.0,213.5"/>
<path d="M130.4,241.5C130.4,241.4 130.4,242.0 130.6,241.0C130.8,240.0 131.0,237.2 131.6,235.6C132.3,234.0 133.7,232.3 134.7,231.5C135.7,230.6 136.8,230.4 137.8,230.4C138.8,230.4 139.8,231.0 140.9,231.5C141.9,232.0 143.1,232.7 143.9,233.5C144.8,234.4 145.3,235.6 146.0,236.6C146.7,237.6 147.3,239.1 148.0,239.7C148.7,240.3 149.7,240.1 150.1,240.2"/>
<path d="M115.2,243.4C115.2,243.2 114.9,242.3 115.2,241.7C115.6,241.1 116.4,240.3 117.3,239.7C118.2,239.0 119.3,237.8 120.4,237.6C121.4,237.4 122.4,238.6 123.4,238.6C124.5,238.6 125.7,238.0 126.5,237.6C127.4,237.3 127.7,236.9 128.6,236.6C129.4,236.2 131.0,235.9 131.6,235.6C132.3,235.3 132.1,234.9 132.2,234.8"/>
<path d="M157.2,236.6C157.6,236.8 158.4,237.8 159.3,237.6C160.2,237.4 161.4,236.1 162.4,235.6C163.4,235.1 164.3,234.4 165.4,234.5C166.6,234.7 168.4,236.8 169.6,236.6C170.7,236.4 171.6,234.4 172.6,233.5C173.6,232.7 174.7,231.6 175.7,231.5C176.7,231.3 177.7,231.8 178.8,232.5C179.8,233.2 180.5,234.6 181.8,235.6C183.2,236.5 186.1,237.7 187.0,238.1"/>
<path d="M97.6,245.0C97.8,245.2 98.1,246.2 98.8,246.3C99.6,246.5 100.9,246.0 101.9,245.8C103.0,245.7 104.0,245.0 105.0,245.3C106.0,245.7 107.0,247.4 108.1,247.9C109.1,248.4 110.1,248.8 111.2,248.4C112.2,248.0 113.2,246.8 114.2,245.3C115.2,243.9 116.3,240.9 117.3,239.7C118.3,238.5 119.3,238.2 120.4,238.2C121.4,238.2 122.4,238.7 123.4,239.7C124.5,240.7 125.5,243.9 126.5,244.3C127.5,244.7 128.6,243.1 129.6,242.2C130.6,241.4 131.6,239.8 132.7,239.2C133.7,238.6 134.7,238.5 135.7,238.7C136.8,238.8 137.8,239.5 138.8,240.2C139.8,240.9 140.9,241.6 141.9,242.8C142.9,244.0 144.1,246.3 145.0,247.4C145.8,248.5 146.3,248.6 147.0,249.4C147.7,250.3 148.6,251.8 149.1,252.5C149.5,253.2 149.5,253.3 149.6,253.5"/>
<path d="M115.2,258.8C115.8,258.5 117.5,257.3 118.3,256.6C119.2,255.9 119.5,255.5 120.4,254.5C121.2,253.6 122.4,251.7 123.4,250.9C124.5,250.2 125.5,249.8 126.5,249.9C127.5,250.0 128.6,250.7 129.6,251.5C130.6,252.2 131.6,253.9 132.7,254.5C133.7,255.1 134.7,255.4 135.7,255.1C136.8,254.7 137.8,253.0 138.8,252.5C139.8,252.0 140.9,251.8 141.9,252.0C142.9,252.2 143.9,252.9 145.0,253.5C146.0,254.1 147.0,255.0 148.0,255.6C149.1,256.2 150.3,256.6 151.1,257.1C152.0,257.6 152.8,258.5 153.2,258.8"/>
<path d="M126.5,237.6C126.7,237.5 126.9,237.7 127.5,237.1C128.2,236.5 129.8,234.9 130.6,234.1C131.5,233.2 132.3,232.6 132.7,232.0C133.0,231.4 132.7,230.7 132.7,230.4"/>
<path d="M134.7,231.5C134.7,231.6 134.4,231.4 134.7,232.0C135.1,232.6 135.9,234.4 136.8,235.1C137.6,235.8 138.8,236.3 139.8,236.1C140.9,235.9 142.2,234.7 142.9,234.1C143.6,233.4 143.4,232.3 143.9,232.0C144.4,231.7 145.6,232.0 146.0,232.0"/>
<path d="M140.9,231.5C140.9,231.6 140.5,231.1 140.9,232.0C141.2,232.9 142.2,235.4 142.9,237.1C143.6,238.8 144.3,240.5 145.0,242.2C145.6,244.0 146.3,245.7 147.0,247.4C147.7,249.1 148.4,251.0 149.1,252.5C149.7,254.0 150.4,255.4 151.1,256.6C151.8,257.8 152.8,259.1 153.2,259.7"/>
<path d="M143.9,232.0C144.3,232.0 145.3,231.3 146.0,232.0C146.7,232.7 147.3,234.7 148.0,236.1C148.7,237.5 149.2,239.0 150.1,240.2C150.9,241.4 152.1,242.6 153.2,243.3C154.2,244.0 155.2,243.8 156.2,244.3C157.3,244.8 158.3,245.5 159.3,246.3C160.3,247.2 161.5,248.4 162.4,249.4C163.2,250.4 163.7,251.5 164.4,252.5C165.1,253.5 165.8,254.5 166.5,255.6C167.2,256.6 168.2,258.3 168.5,258.8"/>
<path d="M149.1,238.2C149.2,238.2 149.4,238.3 150.1,238.2C150.8,238.0 152.0,237.4 153.2,237.1C154.4,236.9 156.1,236.6 157.2,236.6C158.4,236.6 159.3,236.9 160.3,237.1C161.4,237.4 162.4,237.6 163.4,238.2C164.4,238.7 165.5,239.5 166.5,240.2C167.5,240.9 168.5,242.2 169.6,242.2C170.6,242.2 171.6,241.1 172.6,240.2C173.6,239.3 174.7,238.0 175.7,237.1C176.7,236.3 177.6,235.6 178.8,235.1C180.0,234.6 181.5,234.3 182.9,234.1C184.2,233.8 186.3,233.6 187.0,233.5"/>
<path d="M146.2,245.3C146.7,245.3 148.1,245.0 149.1,245.3C150.1,245.7 151.1,246.2 152.1,247.4C153.2,248.6 154.3,250.8 155.2,252.5C156.1,254.2 156.7,256.2 157.2,257.6C157.8,259.0 158.1,260.4 158.3,261.0"/>
<path d="M165.1,253.5C165.3,253.3 165.9,253.5 166.5,252.5C167.0,251.5 167.8,249.1 168.5,247.4C169.2,245.7 169.9,243.8 170.6,242.2C171.3,240.7 171.8,239.3 172.6,238.2C173.5,237.0 174.7,235.8 175.7,235.1C176.7,234.4 178.1,234.4 178.8,234.1C179.4,233.7 179.4,233.4 179.5,233.3"/>
<path d="M170.6,258.8C170.9,257.8 171.9,254.4 172.6,252.5C173.3,250.6 174.0,248.7 174.7,247.4C175.4,246.0 175.9,245.0 176.7,244.3C177.6,243.6 178.8,243.6 179.8,243.3C180.8,242.9 181.7,242.8 182.9,242.2C184.1,241.7 186.3,240.5 187.0,240.2"/>
<path d="M175.7,231.5C175.9,231.6 176.0,231.4 176.7,232.0C177.4,232.6 178.8,234.0 179.8,235.1C180.8,236.1 181.7,237.2 182.9,238.2C184.1,239.1 186.3,240.3 187.0,240.7"/>
<path d="M109.1,258.8C109.6,258.7 111.1,258.3 112.2,258.1C113.2,257.9 114.2,257.9 115.2,257.6C116.3,257.4 117.6,256.9 118.3,256.6C119.0,256.2 119.2,255.7 119.3,255.6"/>
</g>
</g>
<rect x="32.5" y="21.5" width="151.5" height="238.0" fill="none" stroke="#262626" stroke-width="1.1"/>
<line x1="32.5" y1="244.62" x2="35.1" y2="244.62" stroke="#262626" stroke-width="1.1"/>
<text x="26.6" y="265.25" font-size="18.5" text-anchor="end" fill="#000">-3</text>
<line x1="32.5" y1="229.75" x2="37.5" y2="229.75" stroke="#262626" stroke-width="1.1"/>
<line x1="32.5" y1="214.88" x2="35.1" y2="214.88" stroke="#262626" stroke-width="1.1"/>
<text x="26.6" y="235.50" font-size="18.5" text-anchor="end" fill="#000">-2</text>
<line x1="32.5" y1="200.00" x2="37.5" y2="200.00" stroke="#262626" stroke-width="1.1"/>
<line x1="32.5" y1="185.12" x2="35.1" y2="185.12" stroke="#262626" stroke-width="1.1"/>
<text x="26.6" y="205.75" font-size="18.5" text-anchor="end" fill="#000">-1</text>
<line x1="32.5" y1="170.25" x2="37.5" y2="170.25" stroke="#262626" stroke-width="1.1"/>
<line x1="32.5" y1="155.38" x2="35.1" y2="155.38" stroke="#262626" stroke-width="1.1"/>
<text x="26.6" y="176.00" font-size="18.5" text-anchor="end" fill="#000">0</text>
<line x1="32.5" y1="140.50" x2="37.5" y2="140.50" stroke="#262626" stroke-width="1.1"/>
<line x1="32.5" y1="125.62" x2="35.1" y2="125.62" stroke="#262626" stroke-width="1.1"/>
<text x="26.6" y="146.25" font-size="18.5" text-anchor="end" fill="#000">1</text>
<line x1="32.5" y1="110.75" x2="37.5" y2="110.75" stroke="#262626" stroke-width="1.1"/>
<line x1="32.5" y1="95.88" x2="35.1" y2="95.88" stroke="#262626" stroke-width="1.1"/>
<text x="26.6" y="116.50" font-size="18.5" text-anchor="end" fill="#000">2</text>
<line x1="32.5" y1="81.00" x2="37.5" y2="81.00" stroke="#262626" stroke-width="1.1"/>
<line x1="32.5" y1="66.12" x2="35.1" y2="66.12" stroke="#262626" stroke-width="1.1"/>
<text x="26.6" y="86.75" font-size="18.5" text-anchor="end" fill="#000">3</text>
<line x1="32.5" y1="51.25" x2="37.5" y2="51.25" stroke="#262626" stroke-width="1.1"/>
<line x1="32.5" y1="36.38" x2="35.1" y2="36.38" stroke="#262626" stroke-width="1.1"/>
<text x="26.6" y="57.00" font-size="18.5" text-anchor="end" fill="#000">4</text>
<text x="26.6" y="27.25" font-size="18.5" text-anchor="end" fill="#000">5</text>
<line x1="44.05" y1="259.5" x2="44.05" y2="256.5" stroke="#262626" stroke-width="1"/>
<line x1="55.60" y1="259.5" x2="55.60" y2="256.5" stroke="#262626" stroke-width="1"/>
<line x1="67.15" y1="259.5" x2="67.15" y2="256.5" stroke="#262626" stroke-width="1"/>
<line x1="78.70" y1="259.5" x2="78.70" y2="256.5" stroke="#262626" stroke-width="1"/>
<line x1="90.25" y1="259.5" x2="90.25" y2="256.5" stroke="#262626" stroke-width="1"/>
<line x1="101.80" y1="259.5" x2="101.80" y2="256.5" stroke="#262626" stroke-width="1"/>
<line x1="113.35" y1="259.5" x2="113.35" y2="256.5" stroke="#262626" stroke-width="1"/>
<line x1="124.90" y1="259.5" x2="124.90" y2="256.5" stroke="#262626" stroke-width="1"/>
<line x1="136.45" y1="259.5" x2="136.45" y2="256.5" stroke="#262626" stroke-width="1"/>
<line x1="148.00" y1="259.5" x2="148.00" y2="256.5" stroke="#262626" stroke-width="1"/>
<line x1="159.55" y1="259.5" x2="159.55" y2="256.5" stroke="#262626" stroke-width="1"/>
<line x1="171.10" y1="259.5" x2="171.10" y2="256.5" stroke="#262626" stroke-width="1"/>
<line x1="182.65" y1="259.5" x2="182.65" y2="256.5" stroke="#262626" stroke-width="1"/>
<text x="32.9" y="272.7" font-size="12.3" text-anchor="middle" fill="#000">G</text>
<text x="47.1" y="272.7" font-size="12.3" text-anchor="middle" fill="#000">Z</text>
<text x="62.3" y="272.7" font-size="12.3" text-anchor="middle" fill="#000">D</text>
<text x="76.0" y="272.7" font-size="12.3" text-anchor="middle" fill="#000">B</text>
<text x="88.8" y="272.7" font-size="12.3" text-anchor="middle" fill="#000">G</text>
<text x="109.4" y="272.7" font-size="12.3" text-anchor="middle" fill="#000">A</text>
<text x="124.2" y="272.7" font-size="12.3" text-anchor="middle" fill="#000">E</text>
<text x="143.4" y="272.7" font-size="12.3" text-anchor="middle" fill="#000">Z</text>
<text x="158.7" y="272.7" font-size="12.3" text-anchor="middle" fill="#000">C</text>
<text x="171.9" y="272.7" font-size="12.3" text-anchor="middle" fill="#000">Y</text>
<text x="186.6" y="272.7" font-size="12.3" text-anchor="middle" fill="#000">G</text>
<text x="32.6" y="16.5" font-size="16" fill="#000" textLength="68" lengthAdjust="spacingAndGlyphs">(a) <tspan font-size="18.5">α=</tspan>0.15</text>
<text x="90.2" y="70.2" font-size="13.6" fill="#000" textLength="27.4" lengthAdjust="spacingAndGlyphs">CBM</text><text x="96" y="123.6" font-size="13.6" fill="#000" textLength="27.4" lengthAdjust="spacingAndGlyphs">VBM</text><text x="130.0" y="101.8" font-size="14.6" fill="#000" textLength="41.3" lengthAdjust="spacingAndGlyphs"><tspan font-style="italic">E</tspan><tspan font-size="10.5" dy="3.4">g</tspan><tspan dy="-3.4">=3.55</tspan></text><line x1="116.8" y1="84.7" x2="131.48" y2="75.20" stroke="#ff1a1a" stroke-width="1.5"/><polygon points="139.20,70.20 131.30,80.08 131.48,75.20 126.95,73.36" fill="#ff1a1a"/><line x1="108.5" y1="152.1" x2="132.86" y2="169.79" stroke="#ff1a1a" stroke-width="1.5"/><polygon points="140.30,175.20 128.24,171.38 132.86,169.79 132.94,164.91" fill="#ff1a1a"/>
<clipPath id="clipb"><rect x="219.5" y="21.5" width="152.0" height="238.0"/></clipPath>
<line x1="231.5" y1="21.5" x2="231.5" y2="259.5" stroke="#78a4a4" stroke-width="1" stroke-dasharray="6.8 5.6" stroke-dashoffset="4.90"/>
<line x1="246.5" y1="21.5" x2="246.5" y2="259.5" stroke="#78a4a4" stroke-width="1" stroke-dasharray="6.8 5.6" stroke-dashoffset="4.90"/>
<line x1="258.5" y1="21.5" x2="258.5" y2="259.5" stroke="#78a4a4" stroke-width="1" stroke-dasharray="6.8 5.6" stroke-dashoffset="4.90"/>
<line x1="273.5" y1="21.5" x2="273.5" y2="259.5" stroke="#78a4a4" stroke-width="1" stroke-dasharray="6.8 5.6" stroke-dashoffset="4.90"/>
<line x1="294.5" y1="21.5" x2="294.5" y2="259.5" stroke="#78a4a4" stroke-width="1" stroke-dasharray="6.8 5.6" stroke-dashoffset="4.90"/>
<line x1="306.5" y1="21.5" x2="306.5" y2="259.5" stroke="#78a4a4" stroke-width="1" stroke-dasharray="6.8 5.6" stroke-dashoffset="4.90"/>
<line x1="327.5" y1="21.5" x2="327.5" y2="259.5" stroke="#78a4a4" stroke-width="1" stroke-dasharray="6.8 5.6" stroke-dashoffset="4.90"/>
<line x1="343.5" y1="21.5" x2="343.5" y2="259.5" stroke="#78a4a4" stroke-width="1" stroke-dasharray="6.8 5.6" stroke-dashoffset="4.90"/>
<line x1="355.5" y1="21.5" x2="355.5" y2="259.5" stroke="#78a4a4" stroke-width="1" stroke-dasharray="6.8 5.6" stroke-dashoffset="4.90"/>
<line x1="219.5" y1="170.25" x2="371.5" y2="170.25" stroke="#ff0000" stroke-width="1.7" stroke-dasharray="7.7 2.3 2.8 2.2"/>
<g clip-path="url(#clipb)" fill="none" stroke="#1010ff" stroke-width="2" stroke-linejoin="round" stroke-linecap="round">
<g transform="translate(187.0,-6.5)">
<path d="M32.5,55.0C33.1,55.8 35.0,58.1 36.2,60.0C37.5,61.9 38.5,64.4 40.0,66.1C41.5,67.8 43.3,69.7 45.0,69.9C46.7,70.1 48.4,68.9 50.0,67.4C51.6,66.0 53.4,63.2 54.9,61.2C56.4,59.2 57.6,56.7 59.3,55.6C61.0,54.5 63.1,55.0 64.9,54.6C66.7,54.2 68.6,53.6 69.9,53.1C71.2,52.6 71.6,52.0 72.5,51.4C73.4,50.8 74.3,50.1 75.1,49.3C75.9,48.5 76.4,47.5 77.3,46.5C78.2,45.5 79.2,44.3 80.2,43.6C81.2,42.9 82.3,42.5 83.3,42.5C84.3,42.5 85.4,42.7 86.4,43.4C87.4,44.1 88.4,45.3 89.4,46.5C90.4,47.7 91.5,49.5 92.5,50.6C93.5,51.7 94.6,52.8 95.6,53.1C96.6,53.4 97.6,53.4 98.6,52.6C99.6,51.8 100.7,49.6 101.7,48.5C102.7,47.4 103.5,46.3 104.8,45.8C106.1,45.3 107.6,45.4 109.7,45.4C111.8,45.4 115.4,45.4 117.2,45.6C119.0,45.8 119.6,45.8 120.5,46.5C121.4,47.2 121.5,48.1 122.4,49.9C123.3,51.7 124.6,54.9 126.0,57.3C127.4,59.7 129.3,62.2 130.9,64.1C132.5,65.9 134.2,67.4 135.8,68.4C137.4,69.4 138.8,70.1 140.2,69.9C141.6,69.7 143.0,68.8 144.5,67.2C146.0,65.6 147.8,62.4 149.4,60.4C151.1,58.4 152.5,56.6 154.4,55.5C156.3,54.4 158.6,54.5 160.6,53.6C162.6,52.7 164.8,50.8 166.7,49.9C168.5,49.0 169.8,48.8 171.7,48.0C173.6,47.2 175.7,45.9 177.9,44.9C180.1,43.9 183.8,42.7 185.0,42.2"/>
<path d="M51.3,20.0C51.8,20.9 53.5,23.6 54.6,25.1C55.7,26.6 56.7,28.1 57.7,29.2C58.7,30.3 59.5,30.9 60.7,31.8C61.9,32.7 63.4,33.3 64.8,34.4C66.2,35.5 67.5,37.4 68.9,38.5C70.3,39.6 71.7,40.4 73.0,41.2C74.3,42.0 75.5,42.6 76.5,43.5C77.5,44.4 78.2,45.4 79.0,46.5C79.8,47.6 80.7,49.1 81.5,50.2C82.3,51.3 83.2,52.3 84.0,53.0C84.8,53.7 85.7,54.1 86.5,54.2C87.3,54.3 88.2,54.2 89.0,53.8C89.8,53.4 90.8,52.1 91.5,51.8C92.2,51.5 92.8,51.6 93.5,51.8C94.2,52.0 95.2,52.9 95.6,53.1"/>
<path d="M32.5,41.5C33.1,40.9 34.7,38.9 36.0,38.0C37.3,37.1 38.6,36.6 40.2,36.4C41.8,36.2 43.7,36.7 45.4,36.9C47.1,37.1 48.8,37.2 50.5,37.4C52.2,37.6 53.9,38.0 55.6,38.0C57.4,38.0 59.3,37.3 61.0,37.2C62.7,37.1 64.6,37.2 66.0,37.6C67.4,38.0 68.3,39.0 69.5,39.6C70.7,40.2 71.8,40.7 73.0,41.0C74.2,41.3 75.6,41.3 77.0,41.3C78.4,41.3 79.6,41.0 81.2,40.8C82.8,40.5 84.7,40.0 86.4,39.8C88.1,39.5 90.0,39.6 91.5,39.3C93.0,39.0 94.4,38.3 95.6,37.8C96.8,37.3 97.6,36.8 98.6,36.4C99.6,36.0 100.4,35.2 101.5,35.2C102.6,35.2 103.9,36.1 105.0,36.5C106.1,36.9 106.3,37.2 108.0,37.5C109.7,37.8 113.3,38.0 115.0,38.2C116.7,38.4 117.1,38.9 118.3,38.6C119.5,38.3 121.2,37.0 122.4,36.4C123.6,35.8 124.5,34.8 125.5,34.9C126.5,35.0 127.5,36.3 128.5,37.0C129.5,37.7 130.3,38.9 131.6,39.0C132.8,39.1 134.4,38.2 136.0,37.8C137.6,37.4 139.3,36.4 140.9,36.4C142.5,36.4 144.0,37.3 145.5,38.0C147.0,38.7 148.3,39.6 150.1,40.5C151.9,41.4 154.2,42.4 156.2,43.1C158.2,43.9 159.9,44.5 162.0,45.0C164.1,45.5 166.4,46.2 168.5,46.2C170.6,46.2 172.8,45.4 174.7,44.8C176.6,44.2 178.1,43.1 179.8,42.6C181.5,42.1 184.1,41.9 185.0,41.8"/>
<path d="M119.8,46.2C120.2,46.6 121.5,47.5 122.5,48.3C123.5,49.1 124.9,51.0 126.0,51.0C127.1,51.0 127.9,49.7 129.0,48.5C130.1,47.3 131.4,44.7 132.7,43.8C134.0,42.9 134.9,43.1 137.0,43.1C139.1,43.1 142.5,43.4 145.0,43.6C147.5,43.9 149.5,44.2 151.9,44.6C154.3,45.0 156.8,45.6 159.3,46.2C161.8,46.8 164.4,47.4 166.7,48.0C169.0,48.6 171.0,49.1 172.9,49.9C174.8,50.7 175.9,52.1 177.9,53.0C179.9,53.9 183.8,54.7 185.0,55.0"/>
<path d="M32.5,43.0C32.8,43.8 33.8,46.5 34.5,47.5C35.2,48.5 35.8,49.1 36.5,49.3C37.2,49.5 38.0,49.3 39.0,48.8C40.0,48.3 41.1,47.1 42.5,46.2C43.9,45.4 45.8,44.4 47.4,43.7C49.0,43.1 51.2,42.2 52.4,42.3C53.6,42.4 53.9,43.2 54.6,44.5C55.3,45.8 56.0,48.1 56.8,50.0C57.6,51.9 58.4,54.7 59.3,55.6C60.2,56.5 61.5,55.5 62.0,55.5"/>
<path d="M46.6,20.0C46.9,20.9 47.8,23.4 48.4,25.1C49.0,26.8 49.8,28.8 50.5,30.3C51.2,31.9 51.8,33.2 52.5,34.4C53.2,35.6 53.9,36.8 54.6,37.4C55.4,38.0 56.1,38.2 57.0,38.2C57.9,38.2 59.5,37.6 60.0,37.5"/>
<path d="M32.5,39.5C32.9,38.7 34.1,35.9 35.0,34.5C35.9,33.1 37.0,31.8 37.8,31.4C38.6,30.9 38.9,31.3 39.7,31.8C40.5,32.3 40.8,33.9 42.4,34.2C44.0,34.5 47.2,33.5 49.4,33.4C51.6,33.3 53.8,33.7 55.6,33.8C57.4,33.9 58.4,34.3 60.0,34.2C61.6,34.1 63.3,33.7 65.0,33.3C66.7,32.9 68.8,32.5 70.0,32.0C71.2,31.4 71.6,31.1 72.5,30.0C73.4,28.9 74.5,27.2 75.5,25.5C76.5,23.8 77.8,20.9 78.2,20.0"/>
<path d="M70.4,32.2C70.9,32.3 72.7,33.2 73.5,32.8C74.3,32.3 74.8,30.8 75.5,29.5C76.2,28.2 77.2,26.6 78.0,25.0C78.8,23.4 80.1,20.8 80.5,20.0"/>
<path d="M91.5,44.6C91.8,44.3 92.7,43.6 93.5,42.6C94.3,41.6 95.6,40.2 96.6,38.9C97.6,37.6 98.8,35.8 99.7,34.7C100.6,33.6 101.0,33.4 101.7,32.3C102.4,31.2 103.3,29.1 104.0,28.0C104.7,26.9 105.2,26.3 105.8,25.6C106.4,24.9 106.6,24.2 107.6,23.8C108.6,23.4 109.9,23.4 112.0,23.4C114.1,23.4 118.7,23.2 120.4,23.6C122.2,24.0 121.8,25.1 122.5,26.0C123.2,26.9 123.8,28.5 124.5,28.7C125.2,28.9 125.7,27.8 126.5,27.0C127.3,26.2 128.2,25.2 129.1,24.1C129.9,23.0 131.2,21.1 131.6,20.5"/>
<path d="M91.5,20.0C92.2,21.2 94.2,24.8 95.6,27.2C97.0,29.6 98.3,32.6 99.7,34.4C101.1,36.2 102.4,37.4 103.8,38.0C105.2,38.6 107.3,38.2 108.0,38.2"/>
<path d="M120.4,23.6C120.8,23.4 121.7,22.5 122.5,22.2C123.3,21.9 124.2,21.5 125.0,21.6C125.8,21.7 126.3,22.2 127.0,22.6C127.7,23.0 128.8,23.9 129.1,24.1"/>
<path d="M125.0,20.5C125.6,21.3 127.4,23.8 128.6,25.1C129.8,26.4 131.0,27.2 132.2,28.2C133.4,29.1 134.6,30.0 135.7,30.8C136.8,31.6 137.9,32.7 138.8,33.3C139.7,33.9 140.2,34.6 140.9,34.4C141.6,34.2 142.2,33.5 142.9,32.3C143.6,31.1 144.4,28.9 145.0,27.2C145.6,25.5 146.2,23.3 146.5,22.1C146.8,20.9 146.9,20.4 147.0,20.0"/>
<path d="M138.5,20.0C138.2,20.8 137.1,23.3 136.5,25.0C135.9,26.7 135.2,28.6 134.7,30.3C134.1,32.0 133.7,33.5 133.2,35.0C132.7,36.5 132.0,38.3 131.8,39.0"/>
<path d="M147.0,20.5C147.5,21.3 149.1,23.8 150.1,25.1C151.1,26.4 152.2,27.5 153.2,28.2C154.2,28.9 154.7,29.0 156.2,29.2C157.7,29.4 160.3,29.3 162.4,29.2C164.5,29.1 167.0,29.4 168.5,28.7C170.0,28.0 170.8,26.5 171.6,25.1C172.4,23.7 173.3,21.3 173.6,20.5"/>
<path d="M145.0,20.5C145.7,21.3 147.8,24.1 149.0,25.5C150.2,26.9 150.8,28.1 152.0,29.0C153.2,29.9 154.3,30.4 156.0,31.0C157.7,31.6 160.3,31.7 162.4,32.3C164.5,32.9 166.8,33.5 168.5,34.4C170.2,35.2 171.2,36.5 172.6,37.4C174.0,38.3 175.3,39.3 176.7,40.0C178.1,40.7 179.4,41.2 180.8,41.5C182.2,41.8 184.3,41.9 185.0,42.0"/>
</g>
<g transform="translate(187.0,0)">
<path d="M32.5,181.1C33.1,180.6 35.0,178.7 36.4,177.9C37.8,177.1 39.2,176.4 40.6,176.1C42.0,175.8 43.6,175.6 44.8,175.8C46.0,176.0 46.9,176.6 48.0,177.4C49.1,178.2 50.1,179.6 51.2,180.6C52.3,181.6 53.2,182.7 54.4,183.2C55.6,183.7 57.2,183.9 58.6,183.8C60.0,183.7 61.4,183.2 62.8,182.7C64.2,182.2 65.5,181.1 67.1,180.6C68.7,180.1 70.6,180.1 72.4,179.5C74.2,178.9 75.9,176.9 77.7,176.9C79.5,176.9 81.6,178.8 83.0,179.5C84.4,180.2 84.9,181.1 86.1,181.1C87.3,181.1 88.8,180.3 90.4,179.5C92.0,178.7 94.1,177.0 95.7,176.4C97.3,175.8 98.5,175.5 99.9,175.8C101.3,176.2 102.8,177.6 104.0,178.5C105.2,179.4 105.8,180.4 107.2,181.2C108.6,182.0 110.7,182.8 112.5,183.2C114.3,183.6 116.4,183.6 117.8,183.8C119.2,184.0 119.8,184.9 121.0,184.3C122.2,183.7 123.9,180.4 125.2,180.1C126.5,179.8 127.8,181.9 129.0,182.5C130.2,183.1 131.3,184.7 132.6,183.8C133.9,183.0 135.6,178.8 136.8,177.4C138.0,176.0 138.9,175.4 140.0,175.4C141.1,175.4 142.1,176.4 143.2,177.4C144.3,178.4 145.3,180.6 146.4,181.7C147.5,182.8 148.3,183.6 149.6,183.8C150.9,184.1 152.4,183.6 154.0,183.2C155.6,182.8 157.4,181.6 159.1,181.1C160.8,180.6 162.8,180.3 164.4,180.1C166.0,179.9 167.2,180.0 168.6,180.1C170.0,180.2 171.4,180.5 173.0,180.8C174.6,181.1 176.2,181.5 178.2,181.7C180.2,181.9 183.9,182.1 185.0,182.2"/>
<path d="M32.5,183.2C33.1,183.6 35.0,185.0 36.4,185.9C37.8,186.8 39.2,187.9 40.6,188.5C42.0,189.1 43.2,189.7 44.8,189.6C46.3,189.5 47.9,188.6 49.9,187.9C51.9,187.2 54.4,186.0 56.6,185.4C58.8,184.8 61.3,184.9 63.2,184.6C65.1,184.3 66.5,184.0 68.0,183.5C69.5,183.0 70.8,181.7 72.4,181.5C74.0,181.3 75.6,181.9 77.7,182.2C79.8,182.5 82.8,182.8 85.1,183.2C87.4,183.5 89.5,184.0 91.4,184.3C93.3,184.6 94.9,185.0 96.7,184.8C98.5,184.6 100.2,183.7 102.0,183.2C103.8,182.7 105.6,182.1 107.3,181.7C109.0,181.3 110.4,180.7 112.0,180.6C113.6,180.5 115.5,180.4 117.0,181.0C118.5,181.6 119.8,182.9 121.0,184.3C122.2,185.7 122.9,189.3 124.1,189.6C125.3,189.9 126.6,187.0 128.0,186.0C129.4,185.0 131.3,183.6 132.6,183.8C133.9,184.0 134.8,185.6 136.0,187.0C137.2,188.4 138.7,190.7 140.0,192.2C141.3,193.7 142.7,194.9 144.0,196.0C145.3,197.1 146.7,198.2 148.0,199.0C149.3,199.8 150.3,201.0 152.0,201.0C153.7,201.0 156.0,199.8 158.0,199.0C160.0,198.2 162.0,197.0 164.0,196.0C166.0,195.0 168.0,193.7 170.0,193.0C172.0,192.3 173.5,192.0 176.0,192.0C178.5,192.0 183.5,192.8 185.0,193.0"/>
<path d="M76.6,182.1C76.8,182.1 76.8,181.9 77.7,182.4C78.6,182.9 80.6,184.3 82.0,185.0C83.4,185.7 84.3,186.1 86.0,186.5C87.7,186.9 90.0,187.3 92.0,187.5C94.0,187.7 96.0,187.3 98.0,187.5C100.0,187.7 102.3,188.2 104.0,188.5C105.7,188.8 106.6,189.1 108.0,189.5C109.4,189.9 110.9,190.2 112.5,191.2C114.1,192.2 116.4,194.3 117.8,195.4C119.2,196.5 120.0,197.9 121.0,197.5C122.0,197.1 123.1,194.2 124.1,193.0C125.1,191.8 126.0,190.8 127.0,190.5C128.0,190.2 128.8,191.9 130.0,191.5C131.2,191.1 132.8,188.9 134.0,188.0C135.2,187.1 136.0,185.3 137.0,186.0C138.0,186.7 139.0,191.7 140.0,192.2C141.0,192.7 141.9,190.3 143.0,189.0C144.1,187.7 145.3,185.4 146.4,184.5C147.5,183.6 148.2,183.6 149.6,183.8C151.0,184.1 153.3,185.5 155.0,186.0C156.7,186.5 158.5,187.3 160.0,187.0C161.5,186.7 162.7,184.2 164.0,184.0C165.3,183.8 166.3,184.9 167.6,185.9C168.9,186.9 170.6,188.6 172.0,190.0C173.4,191.4 174.7,194.4 176.0,194.4C177.3,194.4 178.5,191.2 180.0,190.0C181.5,188.8 184.2,187.5 185.0,187.0"/>
<path d="M32.5,187.1C33.1,187.5 35.0,188.6 36.4,189.5C37.8,190.4 39.2,191.8 40.6,192.5C42.0,193.2 43.4,193.1 44.8,193.6C46.2,194.1 47.9,195.1 49.1,195.7C50.3,196.3 51.1,197.1 52.2,197.3C53.3,197.5 54.2,196.9 55.5,196.8C56.8,196.7 58.1,197.1 59.7,196.8C61.3,196.5 63.1,195.9 65.0,195.2C66.9,194.5 69.5,193.4 71.3,192.5C73.1,191.6 74.6,190.6 76.0,190.0C77.4,189.4 78.3,189.0 79.8,188.8C81.3,188.6 83.4,188.6 85.1,188.8C86.8,189.0 88.5,189.6 90.0,190.0C91.5,190.4 92.7,191.4 94.0,191.5C95.3,191.6 96.5,190.5 97.8,190.4C99.1,190.3 100.5,190.7 102.0,191.0C103.5,191.3 105.3,191.6 107.0,192.0C108.7,192.4 110.3,193.3 112.0,193.5C113.7,193.7 115.3,193.2 117.0,193.0C118.7,192.8 120.3,191.7 122.0,192.0C123.7,192.3 125.3,194.0 127.0,195.0C128.7,196.0 130.3,197.7 132.0,198.0C133.7,198.3 135.3,197.3 137.0,197.0C138.7,196.7 140.2,197.0 142.0,196.0C143.8,195.0 146.2,192.2 148.0,191.0C149.8,189.8 151.0,189.0 153.0,189.0C155.0,189.0 157.8,190.3 160.0,191.0C162.2,191.7 164.0,192.2 166.0,193.0C168.0,193.8 170.0,195.2 172.0,196.0C174.0,196.8 175.8,197.8 178.0,198.0C180.2,198.2 183.8,197.2 185.0,197.0"/>
<path d="M32.5,191.5C33.1,191.8 35.0,192.5 36.4,193.0C37.8,193.5 39.2,193.9 40.6,194.7C42.0,195.4 43.6,196.7 44.8,197.5C46.0,198.3 46.9,198.8 48.0,199.5C49.1,200.2 50.0,200.5 51.2,201.5C52.4,202.5 54.0,204.7 55.4,205.3C56.8,205.9 58.5,204.3 59.7,205.3C60.9,206.3 61.9,209.6 62.8,211.5C63.7,213.4 64.3,215.8 65.3,216.6C66.3,217.4 67.8,216.8 68.9,216.6C70.0,216.4 71.0,215.4 72.0,215.6C73.0,215.8 74.1,217.4 75.1,217.6C76.1,217.8 77.2,217.2 78.2,216.6C79.2,216.0 80.0,215.1 81.0,214.0C82.0,212.9 83.0,211.4 84.0,210.0C85.0,208.6 86.0,206.8 87.0,205.5C88.0,204.2 89.0,203.1 90.0,202.0C91.0,200.9 92.3,200.1 93.0,199.0C93.7,197.9 93.8,195.9 94.0,195.3"/>
<path d="M32.5,195.7C33.1,195.9 34.8,196.3 36.0,197.0C37.2,197.7 38.7,198.9 40.0,200.0C41.3,201.1 42.6,202.5 43.8,203.5C45.0,204.5 46.0,205.9 47.0,206.0C48.0,206.1 48.8,205.0 50.0,204.0C51.2,203.0 52.7,200.9 54.0,200.0C55.3,199.1 56.8,198.8 58.0,198.5C59.2,198.2 60.0,198.2 61.0,198.0C62.0,197.8 62.5,197.8 63.8,197.6C65.1,197.4 67.4,196.5 68.9,196.6C70.4,196.7 71.8,197.2 73.0,198.1C74.2,199.0 75.2,200.8 76.1,202.2C77.0,203.6 77.5,204.9 78.2,206.3C78.9,207.7 79.7,209.0 80.2,210.4C80.7,211.8 80.8,213.1 81.2,214.5C81.6,215.9 82.0,217.8 82.5,219.0C83.0,220.2 83.2,221.5 84.0,222.0C84.8,222.5 86.8,221.9 87.4,221.9"/>
<path d="M32.5,200.6C33.1,201.0 34.8,202.1 36.0,203.0C37.2,203.9 38.7,205.1 40.0,206.0C41.3,206.9 42.6,207.8 43.8,208.6C45.0,209.3 45.8,209.6 47.0,210.5C48.2,211.4 49.7,212.9 51.0,214.0C52.3,215.1 53.5,216.2 55.0,217.0C56.5,217.8 58.5,218.5 60.0,219.0C61.5,219.5 62.5,219.8 64.0,220.0C65.5,220.2 67.5,220.2 68.9,220.0C70.3,219.8 71.4,219.6 72.4,219.0C73.4,218.4 74.1,217.7 75.0,216.5C75.9,215.3 77.2,213.5 78.0,212.0C78.8,210.5 79.2,208.9 80.0,207.5C80.8,206.1 81.6,204.3 82.5,203.5C83.4,202.7 84.5,203.3 85.6,202.6C86.7,201.8 87.9,200.1 89.0,199.0C90.1,197.9 91.0,196.7 92.0,196.0C93.0,195.3 93.7,194.7 95.0,195.0C96.3,195.3 98.3,197.5 100.0,198.0C101.7,198.5 103.5,198.0 105.0,198.1C106.5,198.2 107.6,198.2 109.0,198.5C110.4,198.8 111.8,199.4 113.2,200.2C114.6,201.0 116.1,202.5 117.3,203.3C118.5,204.1 119.5,205.5 120.5,205.0C121.5,204.5 122.4,200.7 123.4,200.2C124.4,199.7 125.5,201.3 126.5,202.0C127.5,202.7 128.6,204.8 129.6,204.3C130.6,203.8 131.6,200.6 132.5,199.0C133.4,197.4 134.0,196.4 135.0,195.0C136.0,193.6 138.1,191.2 138.7,190.5"/>
<path d="M32.5,209.5C33.1,209.4 34.8,208.9 36.0,209.0C37.2,209.1 38.8,209.5 40.0,210.0C41.2,210.5 42.0,211.2 43.0,212.0C44.0,212.8 45.0,213.8 46.0,214.5C47.0,215.2 48.0,216.1 49.0,216.0C50.0,215.9 51.0,214.8 52.0,214.0C53.0,213.2 54.0,211.8 55.0,211.0C56.0,210.2 57.0,209.0 58.0,209.0C59.0,209.0 60.0,210.2 61.0,211.0C62.0,211.8 63.0,213.0 64.0,213.5C65.0,214.0 66.0,214.2 67.0,214.0C68.0,213.8 69.0,212.5 70.0,212.0C71.0,211.5 71.8,210.8 73.0,211.0C74.2,211.2 75.8,212.2 77.0,213.0C78.2,213.8 79.0,215.1 80.0,216.0C81.0,216.9 82.0,218.0 83.0,218.5C84.0,219.0 85.0,219.2 86.0,219.0C87.0,218.8 88.0,218.0 89.0,217.0C90.0,216.0 91.0,214.3 92.0,213.0C93.0,211.7 94.0,210.2 95.0,209.0C96.0,207.8 97.0,206.7 98.0,206.0C99.0,205.3 99.8,204.4 101.0,205.0C102.2,205.6 103.5,208.6 105.0,209.4C106.5,210.2 108.4,209.7 110.1,209.9C111.8,210.1 113.5,210.1 115.2,210.4C116.9,210.8 119.0,211.5 120.4,212.0C121.8,212.5 122.4,212.9 123.4,213.5C124.4,214.1 125.5,214.9 126.5,215.6C127.5,216.3 128.6,216.9 129.6,217.6C130.6,218.2 132.0,219.1 132.5,219.5C133.0,219.9 132.6,220.1 132.7,220.2"/>
<path d="M129.6,204.3C130.4,204.8 133.3,206.5 134.7,207.0C136.1,207.5 136.8,207.4 137.8,207.5C138.8,207.6 139.9,207.3 140.9,207.5C141.9,207.7 142.9,207.7 143.9,208.4C144.9,209.1 146.0,210.3 147.0,211.5C148.0,212.7 149.1,214.6 150.1,215.6C151.1,216.6 152.2,217.6 153.2,217.6C154.2,217.6 155.2,217.1 156.2,215.6C157.2,214.1 158.5,210.3 159.3,208.4C160.1,206.5 160.3,204.7 160.8,204.3C161.3,204.0 161.8,205.1 162.4,206.3C163.0,207.5 163.6,209.8 164.4,211.5C165.2,213.2 166.5,216.1 167.5,216.6C168.5,217.1 169.6,215.7 170.6,214.5C171.6,213.3 172.6,210.9 173.6,209.4C174.6,207.9 175.7,206.0 176.7,205.3C177.7,204.6 178.8,204.8 179.8,205.3C180.8,205.8 182.0,207.6 182.9,208.4C183.8,209.2 184.7,210.1 185.0,210.4"/>
<path d="M139.0,196.6C139.2,196.5 139.2,195.8 140.0,196.0C140.8,196.2 142.7,197.2 144.0,197.5C145.3,197.8 146.5,197.8 148.0,198.1C149.5,198.4 151.5,198.9 153.2,199.2C154.9,199.5 156.6,199.6 158.3,199.7C160.0,199.8 161.9,199.8 163.4,199.7C164.9,199.6 166.1,199.1 167.5,199.2C168.9,199.3 170.2,199.8 171.6,200.2C173.0,200.6 174.3,201.5 175.7,201.7C177.1,201.9 178.2,201.4 179.8,201.2C181.4,200.9 184.1,200.4 185.0,200.2"/>
<path d="M167.0,193.5C167.5,193.2 169.0,191.9 170.0,192.0C171.0,192.1 171.9,193.3 173.0,194.0C174.1,194.7 175.5,195.0 176.7,196.0C177.9,197.0 178.9,198.8 180.0,200.0C181.1,201.2 182.2,202.3 183.0,203.0C183.8,203.7 184.7,203.8 185.0,204.0"/>
<path d="M171.0,217.3C171.1,217.3 170.6,217.5 171.6,217.0C172.6,216.5 175.2,215.2 176.7,214.5C178.2,213.8 179.4,213.0 180.8,212.5C182.2,212.0 184.3,211.7 185.0,211.5"/>
<path d="M32.0,221.7C32.7,221.3 35.0,219.9 36.1,219.2C37.3,218.4 38.2,217.7 39.2,217.1C40.2,216.5 41.1,215.8 42.3,215.6C43.5,215.4 45.0,215.9 46.4,216.1C47.8,216.3 49.3,216.7 50.5,216.6C51.7,216.5 52.7,216.2 53.6,215.6C54.4,215.0 55.0,213.7 55.6,213.0C56.2,212.3 56.9,212.0 57.1,211.5C57.4,210.9 57.0,210.0 57.0,209.7"/>
<path d="M34.1,228.4C34.1,227.8 33.8,225.7 34.1,224.8C34.4,223.9 35.5,223.4 36.1,222.8C36.8,222.2 37.3,221.7 38.2,221.2C39.1,220.7 40.1,219.9 41.3,219.7C42.5,219.5 44.2,219.9 45.4,220.2C46.6,220.5 47.6,220.5 48.4,221.2C49.3,221.9 49.8,223.3 50.5,224.3C51.2,225.3 51.9,226.3 52.5,227.4C53.2,228.4 53.9,229.4 54.6,230.4C55.3,231.5 56.0,232.7 56.6,233.5C57.3,234.4 58.0,235.4 58.7,235.6C59.4,235.7 59.9,235.4 60.7,234.5C61.6,233.7 62.8,231.6 63.8,230.4C64.8,229.3 65.9,228.4 66.9,227.9C67.9,227.4 68.9,227.2 70.0,227.4C71.0,227.5 72.0,228.4 73.0,228.9C74.1,229.4 75.1,230.0 76.1,230.4C77.1,230.9 78.2,231.5 79.2,231.5C80.2,231.5 81.2,230.4 82.2,230.4C83.3,230.4 84.3,231.6 85.3,231.5C86.4,231.4 87.4,230.6 88.4,229.9C89.4,229.2 90.5,228.3 91.5,227.4C92.5,226.4 93.5,225.0 94.5,224.3C95.6,223.6 96.6,223.3 97.6,223.3C98.6,223.3 99.8,225.0 100.7,224.3C101.6,223.6 101.9,220.5 102.8,219.2C103.6,217.8 104.6,216.8 105.8,216.1C107.0,215.4 108.3,215.2 110.0,215.1C111.7,214.9 114.5,215.6 116.1,215.1C117.6,214.5 118.8,212.2 119.4,211.7"/>
<path d="M32.0,231.5C32.4,231.0 33.4,229.2 34.1,228.4C34.8,227.6 35.5,226.9 36.1,226.9C36.8,226.9 37.5,227.9 38.2,228.4C38.9,228.9 39.4,229.3 40.2,229.9C41.1,230.5 42.3,231.6 43.3,232.0C44.3,232.4 45.4,232.4 46.4,232.5C47.4,232.6 48.6,232.0 49.5,232.5C50.3,233.0 50.8,234.5 51.5,235.6C52.2,236.6 53.0,237.6 53.6,238.6C54.2,239.7 54.6,241.1 55.1,241.7C55.6,242.3 56.2,242.2 56.4,242.2"/>
<path d="M32.0,235.6C32.6,235.2 34.1,234.0 35.1,233.5C36.1,233.0 37.2,232.7 38.2,232.5C39.2,232.3 40.2,232.3 41.3,232.5C42.3,232.7 43.3,233.3 44.3,233.5C45.4,233.8 46.7,234.2 47.4,234.0C48.1,233.9 48.3,232.7 48.4,232.5"/>
<path d="M61.0,211.0C61.1,211.2 61.3,211.3 61.8,212.0C62.2,212.7 63.1,214.0 63.8,215.1C64.5,216.1 65.2,217.5 65.9,218.2C66.5,218.8 67.1,219.4 67.9,219.2C68.8,218.9 70.1,217.1 71.0,216.6C71.8,216.1 72.3,216.0 73.0,216.1C73.7,216.2 74.4,216.6 75.1,217.1C75.8,217.6 76.4,219.0 77.1,219.2C77.8,219.3 78.5,218.8 79.2,218.2C79.9,217.5 80.5,215.8 81.2,215.1C81.9,214.3 82.6,213.9 83.3,213.5C84.0,213.2 84.1,212.8 85.3,213.0C86.6,213.2 89.9,214.3 90.8,214.6"/>
<path d="M72.0,215.6C72.2,215.7 72.3,215.2 73.0,216.1C73.7,217.0 75.3,219.9 76.1,221.2C77.0,222.6 77.5,223.3 78.2,224.3C78.8,225.3 79.3,226.5 80.2,227.4C81.1,228.2 82.3,228.9 83.3,229.4C84.3,229.9 85.3,230.2 86.3,230.4C87.4,230.7 88.2,230.2 89.4,230.9C90.6,231.7 92.8,234.2 93.5,234.8"/>
<path d="M77.8,213.8C78.0,213.8 78.4,213.3 79.2,214.1C79.9,214.8 81.2,217.0 82.2,218.2C83.3,219.3 84.3,220.5 85.3,221.2C86.4,221.9 87.4,222.4 88.4,222.2C89.4,222.1 90.6,221.1 91.5,220.2C92.3,219.3 92.8,218.0 93.5,217.1C94.2,216.3 94.9,215.8 95.6,215.1C96.3,214.4 96.9,213.6 97.6,213.0C98.3,212.4 98.6,212.2 99.7,211.5C100.8,210.7 103.4,209.0 104.2,208.5"/>
<path d="M89.0,217.0C89.4,217.4 90.6,218.1 91.5,219.2C92.4,220.2 93.7,221.9 94.5,223.3C95.4,224.6 96.1,225.8 96.6,227.4C97.1,228.9 97.3,231.1 97.6,232.5C98.0,233.9 98.1,234.5 98.7,235.6C99.2,236.6 100.0,237.6 100.7,238.6C101.4,239.7 102.5,241.0 102.8,241.7C103.0,242.4 102.1,242.7 101.9,242.9"/>
<path d="M94.5,234.4C94.7,234.3 94.9,233.5 95.6,233.5C96.3,233.5 97.6,233.9 98.7,234.5C99.7,235.2 100.9,236.5 101.7,237.6C102.6,238.7 103.6,240.0 103.8,241.0C103.9,242.0 102.7,243.2 102.5,243.7"/>
<path d="M32.0,251.5C32.6,251.0 34.1,249.6 35.1,248.4C36.1,247.2 37.2,245.7 38.2,244.3C39.2,242.9 40.2,241.2 41.3,240.2C42.3,239.2 43.5,238.2 44.3,238.2C45.2,238.1 45.7,239.9 46.4,239.7C47.1,239.5 47.6,237.7 48.4,237.1C49.3,236.5 50.5,235.8 51.5,236.1C52.5,236.4 53.6,237.8 54.6,239.2C55.6,240.5 56.6,243.4 57.7,244.3C58.7,245.2 59.5,244.6 60.7,244.8C61.9,245.1 63.5,245.4 64.8,245.8C66.2,246.3 67.7,247.2 68.9,247.4C70.1,247.5 71.0,247.7 72.0,246.9C73.0,246.0 74.2,243.5 75.1,242.2C75.9,241.0 76.3,239.4 77.1,239.2C78.0,238.9 79.3,240.1 80.2,240.7C81.1,241.3 81.9,242.3 82.2,242.6"/>
<path d="M32.0,238.2C32.4,238.7 33.4,240.0 34.1,241.2C34.8,242.4 35.5,244.0 36.1,245.3C36.8,246.7 37.5,248.4 38.2,249.4C38.9,250.4 39.4,251.0 40.2,251.5C41.1,251.9 42.1,252.0 43.3,252.0C44.5,252.0 46.1,251.2 47.4,251.5C48.8,251.7 50.3,252.5 51.5,253.5C52.7,254.5 53.9,256.4 54.6,257.6C55.3,258.8 55.4,260.2 55.6,260.7"/>
<path d="M32.0,256.6C32.6,256.1 34.3,253.7 35.1,253.5C36.0,253.4 36.5,254.6 37.2,255.6C37.9,256.5 38.9,258.6 39.2,259.1"/>
<path d="M67.9,256.6C68.4,255.4 70.0,251.5 71.0,249.4C72.0,247.4 73.0,245.5 74.1,244.3C75.1,243.1 76.1,242.4 77.1,242.2C78.2,242.1 79.2,243.3 80.2,243.3C81.2,243.3 82.3,242.7 83.3,242.2C84.3,241.8 85.3,240.8 86.3,240.7C87.4,240.6 88.6,241.0 89.4,241.7C90.3,242.5 90.8,244.2 91.5,245.3C92.2,246.4 92.8,248.4 93.5,248.4C94.2,248.4 94.9,246.3 95.6,245.3C96.3,244.3 96.8,242.9 97.6,242.2C98.5,241.6 99.7,240.7 100.7,241.2C101.7,241.7 102.7,244.0 103.8,245.3C104.8,246.7 105.8,248.3 106.8,249.4C107.9,250.5 109.0,250.6 110.0,252.0C111.1,253.4 112.7,257.0 113.2,258.0"/>
<path d="M71.0,257.6C71.5,256.6 73.0,253.2 74.1,251.5C75.1,249.8 76.1,248.4 77.1,247.4C78.2,246.3 79.0,246.0 80.2,245.3C81.4,244.6 82.9,243.8 84.3,243.3C85.7,242.8 87.0,242.2 88.4,242.2C89.8,242.2 91.1,242.9 92.5,243.3C93.9,243.6 95.4,243.8 96.6,244.3C97.8,244.8 99.0,246.1 99.7,246.3C100.4,246.6 100.7,246.1 100.9,246.0"/>
<path d="M76.1,230.4C76.1,230.7 75.6,231.2 76.1,232.0C76.6,232.8 78.0,234.3 79.2,235.1C80.4,235.8 81.9,236.4 83.3,236.6C84.6,236.8 86.0,236.3 87.4,236.1C88.7,235.9 90.1,235.9 91.5,235.6C92.8,235.2 94.5,234.6 95.6,234.1C96.6,233.5 97.3,232.4 97.6,232.0C97.9,231.6 97.5,231.6 97.4,231.5"/>
<path d="M57.7,261.7C58.9,261.1 63.1,259.0 64.8,258.1C66.5,257.3 66.9,256.7 67.9,256.6C68.9,256.5 70.1,257.2 71.0,257.6C71.8,258.0 72.7,258.6 73.0,258.8"/>
<path d="M77.1,258.8C77.5,258.3 78.5,255.7 79.2,255.4C79.9,255.0 80.5,256.0 81.2,256.6C81.9,257.2 82.9,258.5 83.3,258.8"/>
<path d="M88.4,258.8C88.9,258.3 90.6,255.7 91.5,255.4C92.3,255.1 92.8,256.5 93.5,257.1C94.2,257.7 95.2,258.5 95.6,258.8"/>
<path d="M100.7,258.8C101.2,258.3 102.7,255.6 103.8,255.4C104.8,255.2 106.0,257.0 106.8,257.6C107.7,258.2 108.5,258.6 108.9,258.8"/>
<path d="M104.3,217.6C104.4,217.4 104.2,216.4 105.0,216.1C105.8,215.8 107.9,215.2 109.1,215.6C110.3,215.9 111.1,216.9 112.2,218.2C113.2,219.4 114.2,221.8 115.2,223.3C116.3,224.7 117.1,226.2 118.3,226.9C119.5,227.5 121.1,227.5 122.4,227.4C123.8,227.2 125.2,226.5 126.5,225.8C127.9,225.1 129.2,224.0 130.6,223.3C132.0,222.6 133.2,222.0 134.7,221.7C136.2,221.5 138.5,221.5 139.8,221.7C141.2,222.0 141.9,222.5 142.9,223.3C143.9,224.0 145.0,225.6 146.0,226.3C147.0,227.1 148.0,227.5 149.1,227.9C150.1,228.2 151.0,228.3 152.1,228.4C153.2,228.5 155.0,228.4 155.6,228.4"/>
<path d="M118.3,226.9C118.5,226.9 118.3,227.0 119.3,227.4C120.4,227.7 122.9,228.5 124.5,228.9C126.0,229.3 127.2,229.7 128.6,229.9C129.9,230.2 131.3,230.4 132.7,230.4C134.0,230.4 135.4,230.3 136.8,229.9C138.1,229.6 139.7,228.8 140.9,228.4C142.1,228.0 142.7,228.1 143.9,227.4C145.1,226.7 146.8,225.2 148.0,224.3C149.2,223.4 150.1,222.8 151.1,221.7C152.1,220.7 153.7,218.7 154.2,218.2"/>
<path d="M121.4,212.5C121.7,212.4 122.6,211.6 123.4,212.0C124.3,212.4 125.5,214.0 126.5,215.1C127.5,216.1 128.6,217.3 129.6,218.2C130.6,219.0 131.6,220.4 132.7,220.2C133.7,220.0 134.7,218.1 135.7,217.1C136.8,216.1 138.0,214.9 138.8,214.1C139.6,213.2 139.8,212.3 140.3,212.0C140.9,211.7 141.6,212.0 141.9,212.0"/>
<path d="M140.3,212.0C140.6,212.0 141.0,211.1 141.9,212.0C142.8,212.9 144.8,215.6 146.0,217.1C147.2,218.7 148.0,220.0 149.1,221.2C150.1,222.4 151.1,223.3 152.1,224.3C153.2,225.3 154.3,226.0 155.2,227.4C156.1,228.7 156.6,231.1 157.2,232.5C157.9,233.9 158.7,234.5 159.3,235.6C159.9,236.6 160.0,238.1 160.8,238.6C161.7,239.2 163.8,238.8 164.4,238.8"/>
<path d="M147.0,211.5C147.2,211.6 147.3,211.4 148.0,212.0C148.7,212.6 150.1,214.0 151.1,215.1C152.1,216.1 153.2,217.3 154.2,218.2C155.2,219.0 156.2,220.2 157.2,220.2C158.3,220.2 159.3,218.8 160.3,218.2C161.4,217.5 162.4,216.6 163.4,216.1C164.4,215.6 165.5,215.4 166.5,215.1C167.5,214.7 168.7,214.6 169.6,214.1C170.4,213.5 171.1,212.4 171.6,212.0C172.1,211.6 172.3,211.5 172.4,211.4"/>
<path d="M153.7,225.8C153.7,225.8 153.4,225.9 154.2,225.3C155.0,224.7 156.9,223.1 158.3,222.2C159.6,221.4 161.0,220.7 162.4,220.2C163.7,219.7 165.1,218.8 166.5,219.2C167.8,219.5 169.2,221.1 170.6,222.2C171.9,223.4 173.3,225.1 174.7,226.3C176.0,227.5 177.4,228.4 178.8,229.4C180.1,230.4 181.5,231.7 182.9,232.5C184.2,233.3 186.3,233.8 187.0,234.0"/>
<path d="M166.3,214.6C166.6,214.5 167.6,213.5 168.5,214.1C169.4,214.6 170.4,217.3 171.6,218.2C172.8,219.0 174.5,219.5 175.7,219.2C176.9,218.8 177.6,217.0 178.8,216.1C180.0,215.2 181.5,214.5 182.9,214.1C184.2,213.6 186.3,213.6 187.0,213.5"/>
<path d="M130.4,241.5C130.4,241.4 130.4,242.0 130.6,241.0C130.8,240.0 131.0,237.2 131.6,235.6C132.3,234.0 133.7,232.3 134.7,231.5C135.7,230.6 136.8,230.4 137.8,230.4C138.8,230.4 139.8,231.0 140.9,231.5C141.9,232.0 143.1,232.7 143.9,233.5C144.8,234.4 145.3,235.6 146.0,236.6C146.7,237.6 147.3,239.1 148.0,239.7C148.7,240.3 149.7,240.1 150.1,240.2"/>
<path d="M115.2,243.4C115.2,243.2 114.9,242.3 115.2,241.7C115.6,241.1 116.4,240.3 117.3,239.7C118.2,239.0 119.3,237.8 120.4,237.6C121.4,237.4 122.4,238.6 123.4,238.6C124.5,238.6 125.7,238.0 126.5,237.6C127.4,237.3 127.7,236.9 128.6,236.6C129.4,236.2 131.0,235.9 131.6,235.6C132.3,235.3 132.1,234.9 132.2,234.8"/>
<path d="M157.2,236.6C157.6,236.8 158.4,237.8 159.3,237.6C160.2,237.4 161.4,236.1 162.4,235.6C163.4,235.1 164.3,234.4 165.4,234.5C166.6,234.7 168.4,236.8 169.6,236.6C170.7,236.4 171.6,234.4 172.6,233.5C173.6,232.7 174.7,231.6 175.7,231.5C176.7,231.3 177.7,231.8 178.8,232.5C179.8,233.2 180.5,234.6 181.8,235.6C183.2,236.5 186.1,237.7 187.0,238.1"/>
<path d="M97.6,245.0C97.8,245.2 98.1,246.2 98.8,246.3C99.6,246.5 100.9,246.0 101.9,245.8C103.0,245.7 104.0,245.0 105.0,245.3C106.0,245.7 107.0,247.4 108.1,247.9C109.1,248.4 110.1,248.8 111.2,248.4C112.2,248.0 113.2,246.8 114.2,245.3C115.2,243.9 116.3,240.9 117.3,239.7C118.3,238.5 119.3,238.2 120.4,238.2C121.4,238.2 122.4,238.7 123.4,239.7C124.5,240.7 125.5,243.9 126.5,244.3C127.5,244.7 128.6,243.1 129.6,242.2C130.6,241.4 131.6,239.8 132.7,239.2C133.7,238.6 134.7,238.5 135.7,238.7C136.8,238.8 137.8,239.5 138.8,240.2C139.8,240.9 140.9,241.6 141.9,242.8C142.9,244.0 144.1,246.3 145.0,247.4C145.8,248.5 146.3,248.6 147.0,249.4C147.7,250.3 148.6,251.8 149.1,252.5C149.5,253.2 149.5,253.3 149.6,253.5"/>
<path d="M115.2,258.8C115.8,258.5 117.5,257.3 118.3,256.6C119.2,255.9 119.5,255.5 120.4,254.5C121.2,253.6 122.4,251.7 123.4,250.9C124.5,250.2 125.5,249.8 126.5,249.9C127.5,250.0 128.6,250.7 129.6,251.5C130.6,252.2 131.6,253.9 132.7,254.5C133.7,255.1 134.7,255.4 135.7,255.1C136.8,254.7 137.8,253.0 138.8,252.5C139.8,252.0 140.9,251.8 141.9,252.0C142.9,252.2 143.9,252.9 145.0,253.5C146.0,254.1 147.0,255.0 148.0,255.6C149.1,256.2 150.3,256.6 151.1,257.1C152.0,257.6 152.8,258.5 153.2,258.8"/>
<path d="M126.5,237.6C126.7,237.5 126.9,237.7 127.5,237.1C128.2,236.5 129.8,234.9 130.6,234.1C131.5,233.2 132.3,232.6 132.7,232.0C133.0,231.4 132.7,230.7 132.7,230.4"/>
<path d="M134.7,231.5C134.7,231.6 134.4,231.4 134.7,232.0C135.1,232.6 135.9,234.4 136.8,235.1C137.6,235.8 138.8,236.3 139.8,236.1C140.9,235.9 142.2,234.7 142.9,234.1C143.6,233.4 143.4,232.3 143.9,232.0C144.4,231.7 145.6,232.0 146.0,232.0"/>
<path d="M140.9,231.5C140.9,231.6 140.5,231.1 140.9,232.0C141.2,232.9 142.2,235.4 142.9,237.1C143.6,238.8 144.3,240.5 145.0,242.2C145.6,244.0 146.3,245.7 147.0,247.4C147.7,249.1 148.4,251.0 149.1,252.5C149.7,254.0 150.4,255.4 151.1,256.6C151.8,257.8 152.8,259.1 153.2,259.7"/>
<path d="M143.9,232.0C144.3,232.0 145.3,231.3 146.0,232.0C146.7,232.7 147.3,234.7 148.0,236.1C148.7,237.5 149.2,239.0 150.1,240.2C150.9,241.4 152.1,242.6 153.2,243.3C154.2,244.0 155.2,243.8 156.2,244.3C157.3,244.8 158.3,245.5 159.3,246.3C160.3,247.2 161.5,248.4 162.4,249.4C163.2,250.4 163.7,251.5 164.4,252.5C165.1,253.5 165.8,254.5 166.5,255.6C167.2,256.6 168.2,258.3 168.5,258.8"/>
<path d="M149.1,238.2C149.2,238.2 149.4,238.3 150.1,238.2C150.8,238.0 152.0,237.4 153.2,237.1C154.4,236.9 156.1,236.6 157.2,236.6C158.4,236.6 159.3,236.9 160.3,237.1C161.4,237.4 162.4,237.6 163.4,238.2C164.4,238.7 165.5,239.5 166.5,240.2C167.5,240.9 168.5,242.2 169.6,242.2C170.6,242.2 171.6,241.1 172.6,240.2C173.6,239.3 174.7,238.0 175.7,237.1C176.7,236.3 177.6,235.6 178.8,235.1C180.0,234.6 181.5,234.3 182.9,234.1C184.2,233.8 186.3,233.6 187.0,233.5"/>
<path d="M146.2,245.3C146.7,245.3 148.1,245.0 149.1,245.3C150.1,245.7 151.1,246.2 152.1,247.4C153.2,248.6 154.3,250.8 155.2,252.5C156.1,254.2 156.7,256.2 157.2,257.6C157.8,259.0 158.1,260.4 158.3,261.0"/>
<path d="M165.1,253.5C165.3,253.3 165.9,253.5 166.5,252.5C167.0,251.5 167.8,249.1 168.5,247.4C169.2,245.7 169.9,243.8 170.6,242.2C171.3,240.7 171.8,239.3 172.6,238.2C173.5,237.0 174.7,235.8 175.7,235.1C176.7,234.4 178.1,234.4 178.8,234.1C179.4,233.7 179.4,233.4 179.5,233.3"/>
<path d="M170.6,258.8C170.9,257.8 171.9,254.4 172.6,252.5C173.3,250.6 174.0,248.7 174.7,247.4C175.4,246.0 175.9,245.0 176.7,244.3C177.6,243.6 178.8,243.6 179.8,243.3C180.8,242.9 181.7,242.8 182.9,242.2C184.1,241.7 186.3,240.5 187.0,240.2"/>
<path d="M175.7,231.5C175.9,231.6 176.0,231.4 176.7,232.0C177.4,232.6 178.8,234.0 179.8,235.1C180.8,236.1 181.7,237.2 182.9,238.2C184.1,239.1 186.3,240.3 187.0,240.7"/>
<path d="M109.1,258.8C109.6,258.7 111.1,258.3 112.2,258.1C113.2,257.9 114.2,257.9 115.2,257.6C116.3,257.4 117.6,256.9 118.3,256.6C119.0,256.2 119.2,255.7 119.3,255.6"/>
</g>
</g>
<rect x="219.5" y="21.5" width="152.0" height="238.0" fill="none" stroke="#262626" stroke-width="1.1"/>
<line x1="219.5" y1="244.62" x2="222.1" y2="244.62" stroke="#262626" stroke-width="1.1"/>
<text x="214.1" y="263.97" font-size="15.6" text-anchor="end" fill="#000">-3</text>
<line x1="219.5" y1="229.75" x2="224.5" y2="229.75" stroke="#262626" stroke-width="1.1"/>
<line x1="219.5" y1="214.88" x2="222.1" y2="214.88" stroke="#262626" stroke-width="1.1"/>
<text x="214.1" y="234.22" font-size="15.6" text-anchor="end" fill="#000">-2</text>
<line x1="219.5" y1="200.00" x2="224.5" y2="200.00" stroke="#262626" stroke-width="1.1"/>
<line x1="219.5" y1="185.12" x2="222.1" y2="185.12" stroke="#262626" stroke-width="1.1"/>
<text x="214.1" y="204.47" font-size="15.6" text-anchor="end" fill="#000">-1</text>
<line x1="219.5" y1="170.25" x2="224.5" y2="170.25" stroke="#262626" stroke-width="1.1"/>
<line x1="219.5" y1="155.38" x2="222.1" y2="155.38" stroke="#262626" stroke-width="1.1"/>
<text x="214.1" y="174.72" font-size="15.6" text-anchor="end" fill="#000">0</text>
<line x1="219.5" y1="140.50" x2="224.5" y2="140.50" stroke="#262626" stroke-width="1.1"/>
<line x1="219.5" y1="125.62" x2="222.1" y2="125.62" stroke="#262626" stroke-width="1.1"/>
<text x="214.1" y="144.97" font-size="15.6" text-anchor="end" fill="#000">1</text>
<line x1="219.5" y1="110.75" x2="224.5" y2="110.75" stroke="#262626" stroke-width="1.1"/>
<line x1="219.5" y1="95.88" x2="222.1" y2="95.88" stroke="#262626" stroke-width="1.1"/>
<text x="214.1" y="115.22" font-size="15.6" text-anchor="end" fill="#000">2</text>
<line x1="219.5" y1="81.00" x2="224.5" y2="81.00" stroke="#262626" stroke-width="1.1"/>
<line x1="219.5" y1="66.12" x2="222.1" y2="66.12" stroke="#262626" stroke-width="1.1"/>
<text x="214.1" y="85.47" font-size="15.6" text-anchor="end" fill="#000">3</text>
<line x1="219.5" y1="51.25" x2="224.5" y2="51.25" stroke="#262626" stroke-width="1.1"/>
<line x1="219.5" y1="36.38" x2="222.1" y2="36.38" stroke="#262626" stroke-width="1.1"/>
<text x="214.1" y="55.72" font-size="15.6" text-anchor="end" fill="#000">4</text>
<text x="214.1" y="25.97" font-size="15.6" text-anchor="end" fill="#000">5</text>
<line x1="231.05" y1="259.5" x2="231.05" y2="256.5" stroke="#262626" stroke-width="1"/>
<line x1="242.60" y1="259.5" x2="242.60" y2="256.5" stroke="#262626" stroke-width="1"/>
<line x1="254.15" y1="259.5" x2="254.15" y2="256.5" stroke="#262626" stroke-width="1"/>
<line x1="265.70" y1="259.5" x2="265.70" y2="256.5" stroke="#262626" stroke-width="1"/>
<line x1="277.25" y1="259.5" x2="277.25" y2="256.5" stroke="#262626" stroke-width="1"/>
<line x1="288.80" y1="259.5" x2="288.80" y2="256.5" stroke="#262626" stroke-width="1"/>
<line x1="300.35" y1="259.5" x2="300.35" y2="256.5" stroke="#262626" stroke-width="1"/>
<line x1="311.90" y1="259.5" x2="311.90" y2="256.5" stroke="#262626" stroke-width="1"/>
<line x1="323.45" y1="259.5" x2="323.45" y2="256.5" stroke="#262626" stroke-width="1"/>
<line x1="335.00" y1="259.5" x2="335.00" y2="256.5" stroke="#262626" stroke-width="1"/>
<line x1="346.55" y1="259.5" x2="346.55" y2="256.5" stroke="#262626" stroke-width="1"/>
<line x1="358.10" y1="259.5" x2="358.10" y2="256.5" stroke="#262626" stroke-width="1"/>
<line x1="369.65" y1="259.5" x2="369.65" y2="256.5" stroke="#262626" stroke-width="1"/>
<text x="219.9" y="272.7" font-size="12.3" text-anchor="middle" fill="#000">G</text>
<text x="234.1" y="272.7" font-size="12.3" text-anchor="middle" fill="#000">Z</text>
<text x="249.3" y="272.7" font-size="12.3" text-anchor="middle" fill="#000">D</text>
<text x="263.0" y="272.7" font-size="12.3" text-anchor="middle" fill="#000">B</text>
<text x="275.8" y="272.7" font-size="12.3" text-anchor="middle" fill="#000">G</text>
<text x="296.4" y="272.7" font-size="12.3" text-anchor="middle" fill="#000">A</text>
<text x="311.2" y="272.7" font-size="12.3" text-anchor="middle" fill="#000">E</text>
<text x="330.4" y="272.7" font-size="12.3" text-anchor="middle" fill="#000">Z</text>
<text x="345.7" y="272.7" font-size="12.3" text-anchor="middle" fill="#000">C</text>
<text x="358.9" y="272.7" font-size="12.3" text-anchor="middle" fill="#000">Y</text>
<text x="373.6" y="272.7" font-size="12.3" text-anchor="middle" fill="#000">G</text>
<text x="213.5" y="16.5" font-size="16" fill="#000" textLength="68" lengthAdjust="spacingAndGlyphs">(b) <tspan font-size="18.5">α=</tspan>0.19</text>
<text x="279.7" y="68.6" font-size="13.6" fill="#000" textLength="27.4" lengthAdjust="spacingAndGlyphs">CBM</text><text x="276.9" y="127.7" font-size="13.6" fill="#000" textLength="27.4" lengthAdjust="spacingAndGlyphs">VBM</text><text x="301.9" y="102.0" font-size="14.6" fill="#000" textLength="41.8" lengthAdjust="spacingAndGlyphs"><tspan font-style="italic">E</tspan><tspan font-size="10.5" dy="3.4">g</tspan><tspan dy="-3.4">=3.77</tspan></text><line x1="302.3" y1="81.8" x2="321.29" y2="68.88" stroke="#ff1a1a" stroke-width="1.5"/><polygon points="328.90,63.70 321.23,73.76 321.29,68.88 316.73,67.14" fill="#ff1a1a"/><line x1="300.3" y1="154.8" x2="319.97" y2="169.74" stroke="#ff1a1a" stroke-width="1.5"/><polygon points="327.30,175.30 315.32,171.23 319.97,169.74 320.16,164.86" fill="#ff1a1a"/>
<clipPath id="clipc"><rect x="402.5" y="21.5" width="152.0" height="238.0"/></clipPath>
<line x1="414.5" y1="21.5" x2="414.5" y2="259.5" stroke="#78a4a4" stroke-width="1" stroke-dasharray="6.8 5.6" stroke-dashoffset="4.90"/>
<line x1="429.5" y1="21.5" x2="429.5" y2="259.5" stroke="#78a4a4" stroke-width="1" stroke-dasharray="6.8 5.6" stroke-dashoffset="4.90"/>
<line x1="441.5" y1="21.5" x2="441.5" y2="259.5" stroke="#78a4a4" stroke-width="1" stroke-dasharray="6.8 5.6" stroke-dashoffset="4.90"/>
<line x1="456.5" y1="21.5" x2="456.5" y2="259.5" stroke="#78a4a4" stroke-width="1" stroke-dasharray="6.8 5.6" stroke-dashoffset="4.90"/>
<line x1="477.5" y1="21.5" x2="477.5" y2="259.5" stroke="#78a4a4" stroke-width="1" stroke-dasharray="6.8 5.6" stroke-dashoffset="4.90"/>
<line x1="489.5" y1="21.5" x2="489.5" y2="259.5" stroke="#78a4a4" stroke-width="1" stroke-dasharray="6.8 5.6" stroke-dashoffset="4.90"/>
<line x1="510.5" y1="21.5" x2="510.5" y2="259.5" stroke="#78a4a4" stroke-width="1" stroke-dasharray="6.8 5.6" stroke-dashoffset="4.90"/>
<line x1="526.5" y1="21.5" x2="526.5" y2="259.5" stroke="#78a4a4" stroke-width="1" stroke-dasharray="6.8 5.6" stroke-dashoffset="4.90"/>
<line x1="538.5" y1="21.5" x2="538.5" y2="259.5" stroke="#78a4a4" stroke-width="1" stroke-dasharray="6.8 5.6" stroke-dashoffset="4.90"/>
<line x1="402.5" y1="170.25" x2="554.5" y2="170.25" stroke="#ff0000" stroke-width="1.7" stroke-dasharray="7.7 2.3 2.8 2.2"/>
<g clip-path="url(#clipc)" fill="none" stroke="#1010ff" stroke-width="2" stroke-linejoin="round" stroke-linecap="round">
<g transform="translate(370.0,-16.2)">
<path d="M32.5,55.0C33.1,55.8 35.0,58.1 36.2,60.0C37.5,61.9 38.5,64.4 40.0,66.1C41.5,67.8 43.3,69.7 45.0,69.9C46.7,70.1 48.4,68.9 50.0,67.4C51.6,66.0 53.4,63.2 54.9,61.2C56.4,59.2 57.6,56.7 59.3,55.6C61.0,54.5 63.1,55.0 64.9,54.6C66.7,54.2 68.6,53.6 69.9,53.1C71.2,52.6 71.6,52.0 72.5,51.4C73.4,50.8 74.3,50.1 75.1,49.3C75.9,48.5 76.4,47.5 77.3,46.5C78.2,45.5 79.2,44.3 80.2,43.6C81.2,42.9 82.3,42.5 83.3,42.5C84.3,42.5 85.4,42.7 86.4,43.4C87.4,44.1 88.4,45.3 89.4,46.5C90.4,47.7 91.5,49.5 92.5,50.6C93.5,51.7 94.6,52.8 95.6,53.1C96.6,53.4 97.6,53.4 98.6,52.6C99.6,51.8 100.7,49.6 101.7,48.5C102.7,47.4 103.5,46.3 104.8,45.8C106.1,45.3 107.6,45.4 109.7,45.4C111.8,45.4 115.4,45.4 117.2,45.6C119.0,45.8 119.6,45.8 120.5,46.5C121.4,47.2 121.5,48.1 122.4,49.9C123.3,51.7 124.6,54.9 126.0,57.3C127.4,59.7 129.3,62.2 130.9,64.1C132.5,65.9 134.2,67.4 135.8,68.4C137.4,69.4 138.8,70.1 140.2,69.9C141.6,69.7 143.0,68.8 144.5,67.2C146.0,65.6 147.8,62.4 149.4,60.4C151.1,58.4 152.5,56.6 154.4,55.5C156.3,54.4 158.6,54.5 160.6,53.6C162.6,52.7 164.8,50.8 166.7,49.9C168.5,49.0 169.8,48.8 171.7,48.0C173.6,47.2 175.7,45.9 177.9,44.9C180.1,43.9 183.8,42.7 185.0,42.2"/>
<path d="M51.3,20.0C51.8,20.9 53.5,23.6 54.6,25.1C55.7,26.6 56.7,28.1 57.7,29.2C58.7,30.3 59.5,30.9 60.7,31.8C61.9,32.7 63.4,33.3 64.8,34.4C66.2,35.5 67.5,37.4 68.9,38.5C70.3,39.6 71.7,40.4 73.0,41.2C74.3,42.0 75.5,42.6 76.5,43.5C77.5,44.4 78.2,45.4 79.0,46.5C79.8,47.6 80.7,49.1 81.5,50.2C82.3,51.3 83.2,52.3 84.0,53.0C84.8,53.7 85.7,54.1 86.5,54.2C87.3,54.3 88.2,54.2 89.0,53.8C89.8,53.4 90.8,52.1 91.5,51.8C92.2,51.5 92.8,51.6 93.5,51.8C94.2,52.0 95.2,52.9 95.6,53.1"/>
<path d="M32.5,41.5C33.1,40.9 34.7,38.9 36.0,38.0C37.3,37.1 38.6,36.6 40.2,36.4C41.8,36.2 43.7,36.7 45.4,36.9C47.1,37.1 48.8,37.2 50.5,37.4C52.2,37.6 53.9,38.0 55.6,38.0C57.4,38.0 59.3,37.3 61.0,37.2C62.7,37.1 64.6,37.2 66.0,37.6C67.4,38.0 68.3,39.0 69.5,39.6C70.7,40.2 71.8,40.7 73.0,41.0C74.2,41.3 75.6,41.3 77.0,41.3C78.4,41.3 79.6,41.0 81.2,40.8C82.8,40.5 84.7,40.0 86.4,39.8C88.1,39.5 90.0,39.6 91.5,39.3C93.0,39.0 94.4,38.3 95.6,37.8C96.8,37.3 97.6,36.8 98.6,36.4C99.6,36.0 100.4,35.2 101.5,35.2C102.6,35.2 103.9,36.1 105.0,36.5C106.1,36.9 106.3,37.2 108.0,37.5C109.7,37.8 113.3,38.0 115.0,38.2C116.7,38.4 117.1,38.9 118.3,38.6C119.5,38.3 121.2,37.0 122.4,36.4C123.6,35.8 124.5,34.8 125.5,34.9C126.5,35.0 127.5,36.3 128.5,37.0C129.5,37.7 130.3,38.9 131.6,39.0C132.8,39.1 134.4,38.2 136.0,37.8C137.6,37.4 139.3,36.4 140.9,36.4C142.5,36.4 144.0,37.3 145.5,38.0C147.0,38.7 148.3,39.6 150.1,40.5C151.9,41.4 154.2,42.4 156.2,43.1C158.2,43.9 159.9,44.5 162.0,45.0C164.1,45.5 166.4,46.2 168.5,46.2C170.6,46.2 172.8,45.4 174.7,44.8C176.6,44.2 178.1,43.1 179.8,42.6C181.5,42.1 184.1,41.9 185.0,41.8"/>
<path d="M119.8,46.2C120.2,46.6 121.5,47.5 122.5,48.3C123.5,49.1 124.9,51.0 126.0,51.0C127.1,51.0 127.9,49.7 129.0,48.5C130.1,47.3 131.4,44.7 132.7,43.8C134.0,42.9 134.9,43.1 137.0,43.1C139.1,43.1 142.5,43.4 145.0,43.6C147.5,43.9 149.5,44.2 151.9,44.6C154.3,45.0 156.8,45.6 159.3,46.2C161.8,46.8 164.4,47.4 166.7,48.0C169.0,48.6 171.0,49.1 172.9,49.9C174.8,50.7 175.9,52.1 177.9,53.0C179.9,53.9 183.8,54.7 185.0,55.0"/>
<path d="M32.5,43.0C32.8,43.8 33.8,46.5 34.5,47.5C35.2,48.5 35.8,49.1 36.5,49.3C37.2,49.5 38.0,49.3 39.0,48.8C40.0,48.3 41.1,47.1 42.5,46.2C43.9,45.4 45.8,44.4 47.4,43.7C49.0,43.1 51.2,42.2 52.4,42.3C53.6,42.4 53.9,43.2 54.6,44.5C55.3,45.8 56.0,48.1 56.8,50.0C57.6,51.9 58.4,54.7 59.3,55.6C60.2,56.5 61.5,55.5 62.0,55.5"/>
<path d="M46.6,20.0C46.9,20.9 47.8,23.4 48.4,25.1C49.0,26.8 49.8,28.8 50.5,30.3C51.2,31.9 51.8,33.2 52.5,34.4C53.2,35.6 53.9,36.8 54.6,37.4C55.4,38.0 56.1,38.2 57.0,38.2C57.9,38.2 59.5,37.6 60.0,37.5"/>
<path d="M32.5,39.5C32.9,38.7 34.1,35.9 35.0,34.5C35.9,33.1 37.0,31.8 37.8,31.4C38.6,30.9 38.9,31.3 39.7,31.8C40.5,32.3 40.8,33.9 42.4,34.2C44.0,34.5 47.2,33.5 49.4,33.4C51.6,33.3 53.8,33.7 55.6,33.8C57.4,33.9 58.4,34.3 60.0,34.2C61.6,34.1 63.3,33.7 65.0,33.3C66.7,32.9 68.8,32.5 70.0,32.0C71.2,31.4 71.6,31.1 72.5,30.0C73.4,28.9 74.5,27.2 75.5,25.5C76.5,23.8 77.8,20.9 78.2,20.0"/>
<path d="M70.4,32.2C70.9,32.3 72.7,33.2 73.5,32.8C74.3,32.3 74.8,30.8 75.5,29.5C76.2,28.2 77.2,26.6 78.0,25.0C78.8,23.4 80.1,20.8 80.5,20.0"/>
<path d="M91.5,44.6C91.8,44.3 92.7,43.6 93.5,42.6C94.3,41.6 95.6,40.2 96.6,38.9C97.6,37.6 98.8,35.8 99.7,34.7C100.6,33.6 101.0,33.4 101.7,32.3C102.4,31.2 103.3,29.1 104.0,28.0C104.7,26.9 105.2,26.3 105.8,25.6C106.4,24.9 106.6,24.2 107.6,23.8C108.6,23.4 109.9,23.4 112.0,23.4C114.1,23.4 118.7,23.2 120.4,23.6C122.2,24.0 121.8,25.1 122.5,26.0C123.2,26.9 123.8,28.5 124.5,28.7C125.2,28.9 125.7,27.8 126.5,27.0C127.3,26.2 128.2,25.2 129.1,24.1C129.9,23.0 131.2,21.1 131.6,20.5"/>
<path d="M91.5,20.0C92.2,21.2 94.2,24.8 95.6,27.2C97.0,29.6 98.3,32.6 99.7,34.4C101.1,36.2 102.4,37.4 103.8,38.0C105.2,38.6 107.3,38.2 108.0,38.2"/>
<path d="M120.4,23.6C120.8,23.4 121.7,22.5 122.5,22.2C123.3,21.9 124.2,21.5 125.0,21.6C125.8,21.7 126.3,22.2 127.0,22.6C127.7,23.0 128.8,23.9 129.1,24.1"/>
<path d="M125.0,20.5C125.6,21.3 127.4,23.8 128.6,25.1C129.8,26.4 131.0,27.2 132.2,28.2C133.4,29.1 134.6,30.0 135.7,30.8C136.8,31.6 137.9,32.7 138.8,33.3C139.7,33.9 140.2,34.6 140.9,34.4C141.6,34.2 142.2,33.5 142.9,32.3C143.6,31.1 144.4,28.9 145.0,27.2C145.6,25.5 146.2,23.3 146.5,22.1C146.8,20.9 146.9,20.4 147.0,20.0"/>
<path d="M138.5,20.0C138.2,20.8 137.1,23.3 136.5,25.0C135.9,26.7 135.2,28.6 134.7,30.3C134.1,32.0 133.7,33.5 133.2,35.0C132.7,36.5 132.0,38.3 131.8,39.0"/>
<path d="M147.0,20.5C147.5,21.3 149.1,23.8 150.1,25.1C151.1,26.4 152.2,27.5 153.2,28.2C154.2,28.9 154.7,29.0 156.2,29.2C157.7,29.4 160.3,29.3 162.4,29.2C164.5,29.1 167.0,29.4 168.5,28.7C170.0,28.0 170.8,26.5 171.6,25.1C172.4,23.7 173.3,21.3 173.6,20.5"/>
<path d="M145.0,20.5C145.7,21.3 147.8,24.1 149.0,25.5C150.2,26.9 150.8,28.1 152.0,29.0C153.2,29.9 154.3,30.4 156.0,31.0C157.7,31.6 160.3,31.7 162.4,32.3C164.5,32.9 166.8,33.5 168.5,34.4C170.2,35.2 171.2,36.5 172.6,37.4C174.0,38.3 175.3,39.3 176.7,40.0C178.1,40.7 179.4,41.2 180.8,41.5C182.2,41.8 184.3,41.9 185.0,42.0"/>
</g>
<g transform="translate(370.0,0)">
<path d="M32.5,181.1C33.1,180.6 35.0,178.7 36.4,177.9C37.8,177.1 39.2,176.4 40.6,176.1C42.0,175.8 43.6,175.6 44.8,175.8C46.0,176.0 46.9,176.6 48.0,177.4C49.1,178.2 50.1,179.6 51.2,180.6C52.3,181.6 53.2,182.7 54.4,183.2C55.6,183.7 57.2,183.9 58.6,183.8C60.0,183.7 61.4,183.2 62.8,182.7C64.2,182.2 65.5,181.1 67.1,180.6C68.7,180.1 70.6,180.1 72.4,179.5C74.2,178.9 75.9,176.9 77.7,176.9C79.5,176.9 81.6,178.8 83.0,179.5C84.4,180.2 84.9,181.1 86.1,181.1C87.3,181.1 88.8,180.3 90.4,179.5C92.0,178.7 94.1,177.0 95.7,176.4C97.3,175.8 98.5,175.5 99.9,175.8C101.3,176.2 102.8,177.6 104.0,178.5C105.2,179.4 105.8,180.4 107.2,181.2C108.6,182.0 110.7,182.8 112.5,183.2C114.3,183.6 116.4,183.6 117.8,183.8C119.2,184.0 119.8,184.9 121.0,184.3C122.2,183.7 123.9,180.4 125.2,180.1C126.5,179.8 127.8,181.9 129.0,182.5C130.2,183.1 131.3,184.7 132.6,183.8C133.9,183.0 135.6,178.8 136.8,177.4C138.0,176.0 138.9,175.4 140.0,175.4C141.1,175.4 142.1,176.4 143.2,177.4C144.3,178.4 145.3,180.6 146.4,181.7C147.5,182.8 148.3,183.6 149.6,183.8C150.9,184.1 152.4,183.6 154.0,183.2C155.6,182.8 157.4,181.6 159.1,181.1C160.8,180.6 162.8,180.3 164.4,180.1C166.0,179.9 167.2,180.0 168.6,180.1C170.0,180.2 171.4,180.5 173.0,180.8C174.6,181.1 176.2,181.5 178.2,181.7C180.2,181.9 183.9,182.1 185.0,182.2"/>
<path d="M32.5,183.2C33.1,183.6 35.0,185.0 36.4,185.9C37.8,186.8 39.2,187.9 40.6,188.5C42.0,189.1 43.2,189.7 44.8,189.6C46.3,189.5 47.9,188.6 49.9,187.9C51.9,187.2 54.4,186.0 56.6,185.4C58.8,184.8 61.3,184.9 63.2,184.6C65.1,184.3 66.5,184.0 68.0,183.5C69.5,183.0 70.8,181.7 72.4,181.5C74.0,181.3 75.6,181.9 77.7,182.2C79.8,182.5 82.8,182.8 85.1,183.2C87.4,183.5 89.5,184.0 91.4,184.3C93.3,184.6 94.9,185.0 96.7,184.8C98.5,184.6 100.2,183.7 102.0,183.2C103.8,182.7 105.6,182.1 107.3,181.7C109.0,181.3 110.4,180.7 112.0,180.6C113.6,180.5 115.5,180.4 117.0,181.0C118.5,181.6 119.8,182.9 121.0,184.3C122.2,185.7 122.9,189.3 124.1,189.6C125.3,189.9 126.6,187.0 128.0,186.0C129.4,185.0 131.3,183.6 132.6,183.8C133.9,184.0 134.8,185.6 136.0,187.0C137.2,188.4 138.7,190.7 140.0,192.2C141.3,193.7 142.7,194.9 144.0,196.0C145.3,197.1 146.7,198.2 148.0,199.0C149.3,199.8 150.3,201.0 152.0,201.0C153.7,201.0 156.0,199.8 158.0,199.0C160.0,198.2 162.0,197.0 164.0,196.0C166.0,195.0 168.0,193.7 170.0,193.0C172.0,192.3 173.5,192.0 176.0,192.0C178.5,192.0 183.5,192.8 185.0,193.0"/>
<path d="M76.6,182.1C76.8,182.1 76.8,181.9 77.7,182.4C78.6,182.9 80.6,184.3 82.0,185.0C83.4,185.7 84.3,186.1 86.0,186.5C87.7,186.9 90.0,187.3 92.0,187.5C94.0,187.7 96.0,187.3 98.0,187.5C100.0,187.7 102.3,188.2 104.0,188.5C105.7,188.8 106.6,189.1 108.0,189.5C109.4,189.9 110.9,190.2 112.5,191.2C114.1,192.2 116.4,194.3 117.8,195.4C119.2,196.5 120.0,197.9 121.0,197.5C122.0,197.1 123.1,194.2 124.1,193.0C125.1,191.8 126.0,190.8 127.0,190.5C128.0,190.2 128.8,191.9 130.0,191.5C131.2,191.1 132.8,188.9 134.0,188.0C135.2,187.1 136.0,185.3 137.0,186.0C138.0,186.7 139.0,191.7 140.0,192.2C141.0,192.7 141.9,190.3 143.0,189.0C144.1,187.7 145.3,185.4 146.4,184.5C147.5,183.6 148.2,183.6 149.6,183.8C151.0,184.1 153.3,185.5 155.0,186.0C156.7,186.5 158.5,187.3 160.0,187.0C161.5,186.7 162.7,184.2 164.0,184.0C165.3,183.8 166.3,184.9 167.6,185.9C168.9,186.9 170.6,188.6 172.0,190.0C173.4,191.4 174.7,194.4 176.0,194.4C177.3,194.4 178.5,191.2 180.0,190.0C181.5,188.8 184.2,187.5 185.0,187.0"/>
<path d="M32.5,187.1C33.1,187.5 35.0,188.6 36.4,189.5C37.8,190.4 39.2,191.8 40.6,192.5C42.0,193.2 43.4,193.1 44.8,193.6C46.2,194.1 47.9,195.1 49.1,195.7C50.3,196.3 51.1,197.1 52.2,197.3C53.3,197.5 54.2,196.9 55.5,196.8C56.8,196.7 58.1,197.1 59.7,196.8C61.3,196.5 63.1,195.9 65.0,195.2C66.9,194.5 69.5,193.4 71.3,192.5C73.1,191.6 74.6,190.6 76.0,190.0C77.4,189.4 78.3,189.0 79.8,188.8C81.3,188.6 83.4,188.6 85.1,188.8C86.8,189.0 88.5,189.6 90.0,190.0C91.5,190.4 92.7,191.4 94.0,191.5C95.3,191.6 96.5,190.5 97.8,190.4C99.1,190.3 100.5,190.7 102.0,191.0C103.5,191.3 105.3,191.6 107.0,192.0C108.7,192.4 110.3,193.3 112.0,193.5C113.7,193.7 115.3,193.2 117.0,193.0C118.7,192.8 120.3,191.7 122.0,192.0C123.7,192.3 125.3,194.0 127.0,195.0C128.7,196.0 130.3,197.7 132.0,198.0C133.7,198.3 135.3,197.3 137.0,197.0C138.7,196.7 140.2,197.0 142.0,196.0C143.8,195.0 146.2,192.2 148.0,191.0C149.8,189.8 151.0,189.0 153.0,189.0C155.0,189.0 157.8,190.3 160.0,191.0C162.2,191.7 164.0,192.2 166.0,193.0C168.0,193.8 170.0,195.2 172.0,196.0C174.0,196.8 175.8,197.8 178.0,198.0C180.2,198.2 183.8,197.2 185.0,197.0"/>
<path d="M32.5,191.5C33.1,191.8 35.0,192.5 36.4,193.0C37.8,193.5 39.2,193.9 40.6,194.7C42.0,195.4 43.6,196.7 44.8,197.5C46.0,198.3 46.9,198.8 48.0,199.5C49.1,200.2 50.0,200.5 51.2,201.5C52.4,202.5 54.0,204.7 55.4,205.3C56.8,205.9 58.5,204.3 59.7,205.3C60.9,206.3 61.9,209.6 62.8,211.5C63.7,213.4 64.3,215.8 65.3,216.6C66.3,217.4 67.8,216.8 68.9,216.6C70.0,216.4 71.0,215.4 72.0,215.6C73.0,215.8 74.1,217.4 75.1,217.6C76.1,217.8 77.2,217.2 78.2,216.6C79.2,216.0 80.0,215.1 81.0,214.0C82.0,212.9 83.0,211.4 84.0,210.0C85.0,208.6 86.0,206.8 87.0,205.5C88.0,204.2 89.0,203.1 90.0,202.0C91.0,200.9 92.3,200.1 93.0,199.0C93.7,197.9 93.8,195.9 94.0,195.3"/>
<path d="M32.5,195.7C33.1,195.9 34.8,196.3 36.0,197.0C37.2,197.7 38.7,198.9 40.0,200.0C41.3,201.1 42.6,202.5 43.8,203.5C45.0,204.5 46.0,205.9 47.0,206.0C48.0,206.1 48.8,205.0 50.0,204.0C51.2,203.0 52.7,200.9 54.0,200.0C55.3,199.1 56.8,198.8 58.0,198.5C59.2,198.2 60.0,198.2 61.0,198.0C62.0,197.8 62.5,197.8 63.8,197.6C65.1,197.4 67.4,196.5 68.9,196.6C70.4,196.7 71.8,197.2 73.0,198.1C74.2,199.0 75.2,200.8 76.1,202.2C77.0,203.6 77.5,204.9 78.2,206.3C78.9,207.7 79.7,209.0 80.2,210.4C80.7,211.8 80.8,213.1 81.2,214.5C81.6,215.9 82.0,217.8 82.5,219.0C83.0,220.2 83.2,221.5 84.0,222.0C84.8,222.5 86.8,221.9 87.4,221.9"/>
<path d="M32.5,200.6C33.1,201.0 34.8,202.1 36.0,203.0C37.2,203.9 38.7,205.1 40.0,206.0C41.3,206.9 42.6,207.8 43.8,208.6C45.0,209.3 45.8,209.6 47.0,210.5C48.2,211.4 49.7,212.9 51.0,214.0C52.3,215.1 53.5,216.2 55.0,217.0C56.5,217.8 58.5,218.5 60.0,219.0C61.5,219.5 62.5,219.8 64.0,220.0C65.5,220.2 67.5,220.2 68.9,220.0C70.3,219.8 71.4,219.6 72.4,219.0C73.4,218.4 74.1,217.7 75.0,216.5C75.9,215.3 77.2,213.5 78.0,212.0C78.8,210.5 79.2,208.9 80.0,207.5C80.8,206.1 81.6,204.3 82.5,203.5C83.4,202.7 84.5,203.3 85.6,202.6C86.7,201.8 87.9,200.1 89.0,199.0C90.1,197.9 91.0,196.7 92.0,196.0C93.0,195.3 93.7,194.7 95.0,195.0C96.3,195.3 98.3,197.5 100.0,198.0C101.7,198.5 103.5,198.0 105.0,198.1C106.5,198.2 107.6,198.2 109.0,198.5C110.4,198.8 111.8,199.4 113.2,200.2C114.6,201.0 116.1,202.5 117.3,203.3C118.5,204.1 119.5,205.5 120.5,205.0C121.5,204.5 122.4,200.7 123.4,200.2C124.4,199.7 125.5,201.3 126.5,202.0C127.5,202.7 128.6,204.8 129.6,204.3C130.6,203.8 131.6,200.6 132.5,199.0C133.4,197.4 134.0,196.4 135.0,195.0C136.0,193.6 138.1,191.2 138.7,190.5"/>
<path d="M32.5,209.5C33.1,209.4 34.8,208.9 36.0,209.0C37.2,209.1 38.8,209.5 40.0,210.0C41.2,210.5 42.0,211.2 43.0,212.0C44.0,212.8 45.0,213.8 46.0,214.5C47.0,215.2 48.0,216.1 49.0,216.0C50.0,215.9 51.0,214.8 52.0,214.0C53.0,213.2 54.0,211.8 55.0,211.0C56.0,210.2 57.0,209.0 58.0,209.0C59.0,209.0 60.0,210.2 61.0,211.0C62.0,211.8 63.0,213.0 64.0,213.5C65.0,214.0 66.0,214.2 67.0,214.0C68.0,213.8 69.0,212.5 70.0,212.0C71.0,211.5 71.8,210.8 73.0,211.0C74.2,211.2 75.8,212.2 77.0,213.0C78.2,213.8 79.0,215.1 80.0,216.0C81.0,216.9 82.0,218.0 83.0,218.5C84.0,219.0 85.0,219.2 86.0,219.0C87.0,218.8 88.0,218.0 89.0,217.0C90.0,216.0 91.0,214.3 92.0,213.0C93.0,211.7 94.0,210.2 95.0,209.0C96.0,207.8 97.0,206.7 98.0,206.0C99.0,205.3 99.8,204.4 101.0,205.0C102.2,205.6 103.5,208.6 105.0,209.4C106.5,210.2 108.4,209.7 110.1,209.9C111.8,210.1 113.5,210.1 115.2,210.4C116.9,210.8 119.0,211.5 120.4,212.0C121.8,212.5 122.4,212.9 123.4,213.5C124.4,214.1 125.5,214.9 126.5,215.6C127.5,216.3 128.6,216.9 129.6,217.6C130.6,218.2 132.0,219.1 132.5,219.5C133.0,219.9 132.6,220.1 132.7,220.2"/>
<path d="M129.6,204.3C130.4,204.8 133.3,206.5 134.7,207.0C136.1,207.5 136.8,207.4 137.8,207.5C138.8,207.6 139.9,207.3 140.9,207.5C141.9,207.7 142.9,207.7 143.9,208.4C144.9,209.1 146.0,210.3 147.0,211.5C148.0,212.7 149.1,214.6 150.1,215.6C151.1,216.6 152.2,217.6 153.2,217.6C154.2,217.6 155.2,217.1 156.2,215.6C157.2,214.1 158.5,210.3 159.3,208.4C160.1,206.5 160.3,204.7 160.8,204.3C161.3,204.0 161.8,205.1 162.4,206.3C163.0,207.5 163.6,209.8 164.4,211.5C165.2,213.2 166.5,216.1 167.5,216.6C168.5,217.1 169.6,215.7 170.6,214.5C171.6,213.3 172.6,210.9 173.6,209.4C174.6,207.9 175.7,206.0 176.7,205.3C177.7,204.6 178.8,204.8 179.8,205.3C180.8,205.8 182.0,207.6 182.9,208.4C183.8,209.2 184.7,210.1 185.0,210.4"/>
<path d="M139.0,196.6C139.2,196.5 139.2,195.8 140.0,196.0C140.8,196.2 142.7,197.2 144.0,197.5C145.3,197.8 146.5,197.8 148.0,198.1C149.5,198.4 151.5,198.9 153.2,199.2C154.9,199.5 156.6,199.6 158.3,199.7C160.0,199.8 161.9,199.8 163.4,199.7C164.9,199.6 166.1,199.1 167.5,199.2C168.9,199.3 170.2,199.8 171.6,200.2C173.0,200.6 174.3,201.5 175.7,201.7C177.1,201.9 178.2,201.4 179.8,201.2C181.4,200.9 184.1,200.4 185.0,200.2"/>
<path d="M167.0,193.5C167.5,193.2 169.0,191.9 170.0,192.0C171.0,192.1 171.9,193.3 173.0,194.0C174.1,194.7 175.5,195.0 176.7,196.0C177.9,197.0 178.9,198.8 180.0,200.0C181.1,201.2 182.2,202.3 183.0,203.0C183.8,203.7 184.7,203.8 185.0,204.0"/>
<path d="M171.0,217.3C171.1,217.3 170.6,217.5 171.6,217.0C172.6,216.5 175.2,215.2 176.7,214.5C178.2,213.8 179.4,213.0 180.8,212.5C182.2,212.0 184.3,211.7 185.0,211.5"/>
<path d="M32.0,221.7C32.7,221.3 35.0,219.9 36.1,219.2C37.3,218.4 38.2,217.7 39.2,217.1C40.2,216.5 41.1,215.8 42.3,215.6C43.5,215.4 45.0,215.9 46.4,216.1C47.8,216.3 49.3,216.7 50.5,216.6C51.7,216.5 52.7,216.2 53.6,215.6C54.4,215.0 55.0,213.7 55.6,213.0C56.2,212.3 56.9,212.0 57.1,211.5C57.4,210.9 57.0,210.0 57.0,209.7"/>
<path d="M34.1,228.4C34.1,227.8 33.8,225.7 34.1,224.8C34.4,223.9 35.5,223.4 36.1,222.8C36.8,222.2 37.3,221.7 38.2,221.2C39.1,220.7 40.1,219.9 41.3,219.7C42.5,219.5 44.2,219.9 45.4,220.2C46.6,220.5 47.6,220.5 48.4,221.2C49.3,221.9 49.8,223.3 50.5,224.3C51.2,225.3 51.9,226.3 52.5,227.4C53.2,228.4 53.9,229.4 54.6,230.4C55.3,231.5 56.0,232.7 56.6,233.5C57.3,234.4 58.0,235.4 58.7,235.6C59.4,235.7 59.9,235.4 60.7,234.5C61.6,233.7 62.8,231.6 63.8,230.4C64.8,229.3 65.9,228.4 66.9,227.9C67.9,227.4 68.9,227.2 70.0,227.4C71.0,227.5 72.0,228.4 73.0,228.9C74.1,229.4 75.1,230.0 76.1,230.4C77.1,230.9 78.2,231.5 79.2,231.5C80.2,231.5 81.2,230.4 82.2,230.4C83.3,230.4 84.3,231.6 85.3,231.5C86.4,231.4 87.4,230.6 88.4,229.9C89.4,229.2 90.5,228.3 91.5,227.4C92.5,226.4 93.5,225.0 94.5,224.3C95.6,223.6 96.6,223.3 97.6,223.3C98.6,223.3 99.8,225.0 100.7,224.3C101.6,223.6 101.9,220.5 102.8,219.2C103.6,217.8 104.6,216.8 105.8,216.1C107.0,215.4 108.3,215.2 110.0,215.1C111.7,214.9 114.5,215.6 116.1,215.1C117.6,214.5 118.8,212.2 119.4,211.7"/>
<path d="M32.0,231.5C32.4,231.0 33.4,229.2 34.1,228.4C34.8,227.6 35.5,226.9 36.1,226.9C36.8,226.9 37.5,227.9 38.2,228.4C38.9,228.9 39.4,229.3 40.2,229.9C41.1,230.5 42.3,231.6 43.3,232.0C44.3,232.4 45.4,232.4 46.4,232.5C47.4,232.6 48.6,232.0 49.5,232.5C50.3,233.0 50.8,234.5 51.5,235.6C52.2,236.6 53.0,237.6 53.6,238.6C54.2,239.7 54.6,241.1 55.1,241.7C55.6,242.3 56.2,242.2 56.4,242.2"/>
<path d="M32.0,235.6C32.6,235.2 34.1,234.0 35.1,233.5C36.1,233.0 37.2,232.7 38.2,232.5C39.2,232.3 40.2,232.3 41.3,232.5C42.3,232.7 43.3,233.3 44.3,233.5C45.4,233.8 46.7,234.2 47.4,234.0C48.1,233.9 48.3,232.7 48.4,232.5"/>
<path d="M61.0,211.0C61.1,211.2 61.3,211.3 61.8,212.0C62.2,212.7 63.1,214.0 63.8,215.1C64.5,216.1 65.2,217.5 65.9,218.2C66.5,218.8 67.1,219.4 67.9,219.2C68.8,218.9 70.1,217.1 71.0,216.6C71.8,216.1 72.3,216.0 73.0,216.1C73.7,216.2 74.4,216.6 75.1,217.1C75.8,217.6 76.4,219.0 77.1,219.2C77.8,219.3 78.5,218.8 79.2,218.2C79.9,217.5 80.5,215.8 81.2,215.1C81.9,214.3 82.6,213.9 83.3,213.5C84.0,213.2 84.1,212.8 85.3,213.0C86.6,213.2 89.9,214.3 90.8,214.6"/>
<path d="M72.0,215.6C72.2,215.7 72.3,215.2 73.0,216.1C73.7,217.0 75.3,219.9 76.1,221.2C77.0,222.6 77.5,223.3 78.2,224.3C78.8,225.3 79.3,226.5 80.2,227.4C81.1,228.2 82.3,228.9 83.3,229.4C84.3,229.9 85.3,230.2 86.3,230.4C87.4,230.7 88.2,230.2 89.4,230.9C90.6,231.7 92.8,234.2 93.5,234.8"/>
<path d="M77.8,213.8C78.0,213.8 78.4,213.3 79.2,214.1C79.9,214.8 81.2,217.0 82.2,218.2C83.3,219.3 84.3,220.5 85.3,221.2C86.4,221.9 87.4,222.4 88.4,222.2C89.4,222.1 90.6,221.1 91.5,220.2C92.3,219.3 92.8,218.0 93.5,217.1C94.2,216.3 94.9,215.8 95.6,215.1C96.3,214.4 96.9,213.6 97.6,213.0C98.3,212.4 98.6,212.2 99.7,211.5C100.8,210.7 103.4,209.0 104.2,208.5"/>
<path d="M89.0,217.0C89.4,217.4 90.6,218.1 91.5,219.2C92.4,220.2 93.7,221.9 94.5,223.3C95.4,224.6 96.1,225.8 96.6,227.4C97.1,228.9 97.3,231.1 97.6,232.5C98.0,233.9 98.1,234.5 98.7,235.6C99.2,236.6 100.0,237.6 100.7,238.6C101.4,239.7 102.5,241.0 102.8,241.7C103.0,242.4 102.1,242.7 101.9,242.9"/>
<path d="M94.5,234.4C94.7,234.3 94.9,233.5 95.6,233.5C96.3,233.5 97.6,233.9 98.7,234.5C99.7,235.2 100.9,236.5 101.7,237.6C102.6,238.7 103.6,240.0 103.8,241.0C103.9,242.0 102.7,243.2 102.5,243.7"/>
<path d="M32.0,251.5C32.6,251.0 34.1,249.6 35.1,248.4C36.1,247.2 37.2,245.7 38.2,244.3C39.2,242.9 40.2,241.2 41.3,240.2C42.3,239.2 43.5,238.2 44.3,238.2C45.2,238.1 45.7,239.9 46.4,239.7C47.1,239.5 47.6,237.7 48.4,237.1C49.3,236.5 50.5,235.8 51.5,236.1C52.5,236.4 53.6,237.8 54.6,239.2C55.6,240.5 56.6,243.4 57.7,244.3C58.7,245.2 59.5,244.6 60.7,244.8C61.9,245.1 63.5,245.4 64.8,245.8C66.2,246.3 67.7,247.2 68.9,247.4C70.1,247.5 71.0,247.7 72.0,246.9C73.0,246.0 74.2,243.5 75.1,242.2C75.9,241.0 76.3,239.4 77.1,239.2C78.0,238.9 79.3,240.1 80.2,240.7C81.1,241.3 81.9,242.3 82.2,242.6"/>
<path d="M32.0,238.2C32.4,238.7 33.4,240.0 34.1,241.2C34.8,242.4 35.5,244.0 36.1,245.3C36.8,246.7 37.5,248.4 38.2,249.4C38.9,250.4 39.4,251.0 40.2,251.5C41.1,251.9 42.1,252.0 43.3,252.0C44.5,252.0 46.1,251.2 47.4,251.5C48.8,251.7 50.3,252.5 51.5,253.5C52.7,254.5 53.9,256.4 54.6,257.6C55.3,258.8 55.4,260.2 55.6,260.7"/>
<path d="M32.0,256.6C32.6,256.1 34.3,253.7 35.1,253.5C36.0,253.4 36.5,254.6 37.2,255.6C37.9,256.5 38.9,258.6 39.2,259.1"/>
<path d="M67.9,256.6C68.4,255.4 70.0,251.5 71.0,249.4C72.0,247.4 73.0,245.5 74.1,244.3C75.1,243.1 76.1,242.4 77.1,242.2C78.2,242.1 79.2,243.3 80.2,243.3C81.2,243.3 82.3,242.7 83.3,242.2C84.3,241.8 85.3,240.8 86.3,240.7C87.4,240.6 88.6,241.0 89.4,241.7C90.3,242.5 90.8,244.2 91.5,245.3C92.2,246.4 92.8,248.4 93.5,248.4C94.2,248.4 94.9,246.3 95.6,245.3C96.3,244.3 96.8,242.9 97.6,242.2C98.5,241.6 99.7,240.7 100.7,241.2C101.7,241.7 102.7,244.0 103.8,245.3C104.8,246.7 105.8,248.3 106.8,249.4C107.9,250.5 109.0,250.6 110.0,252.0C111.1,253.4 112.7,257.0 113.2,258.0"/>
<path d="M71.0,257.6C71.5,256.6 73.0,253.2 74.1,251.5C75.1,249.8 76.1,248.4 77.1,247.4C78.2,246.3 79.0,246.0 80.2,245.3C81.4,244.6 82.9,243.8 84.3,243.3C85.7,242.8 87.0,242.2 88.4,242.2C89.8,242.2 91.1,242.9 92.5,243.3C93.9,243.6 95.4,243.8 96.6,244.3C97.8,244.8 99.0,246.1 99.7,246.3C100.4,246.6 100.7,246.1 100.9,246.0"/>
<path d="M76.1,230.4C76.1,230.7 75.6,231.2 76.1,232.0C76.6,232.8 78.0,234.3 79.2,235.1C80.4,235.8 81.9,236.4 83.3,236.6C84.6,236.8 86.0,236.3 87.4,236.1C88.7,235.9 90.1,235.9 91.5,235.6C92.8,235.2 94.5,234.6 95.6,234.1C96.6,233.5 97.3,232.4 97.6,232.0C97.9,231.6 97.5,231.6 97.4,231.5"/>
<path d="M57.7,261.7C58.9,261.1 63.1,259.0 64.8,258.1C66.5,257.3 66.9,256.7 67.9,256.6C68.9,256.5 70.1,257.2 71.0,257.6C71.8,258.0 72.7,258.6 73.0,258.8"/>
<path d="M77.1,258.8C77.5,258.3 78.5,255.7 79.2,255.4C79.9,255.0 80.5,256.0 81.2,256.6C81.9,257.2 82.9,258.5 83.3,258.8"/>
<path d="M88.4,258.8C88.9,258.3 90.6,255.7 91.5,255.4C92.3,255.1 92.8,256.5 93.5,257.1C94.2,257.7 95.2,258.5 95.6,258.8"/>
<path d="M100.7,258.8C101.2,258.3 102.7,255.6 103.8,255.4C104.8,255.2 106.0,257.0 106.8,257.6C107.7,258.2 108.5,258.6 108.9,258.8"/>
<path d="M104.3,217.6C104.4,217.4 104.2,216.4 105.0,216.1C105.8,215.8 107.9,215.2 109.1,215.6C110.3,215.9 111.1,216.9 112.2,218.2C113.2,219.4 114.2,221.8 115.2,223.3C116.3,224.7 117.1,226.2 118.3,226.9C119.5,227.5 121.1,227.5 122.4,227.4C123.8,227.2 125.2,226.5 126.5,225.8C127.9,225.1 129.2,224.0 130.6,223.3C132.0,222.6 133.2,222.0 134.7,221.7C136.2,221.5 138.5,221.5 139.8,221.7C141.2,222.0 141.9,222.5 142.9,223.3C143.9,224.0 145.0,225.6 146.0,226.3C147.0,227.1 148.0,227.5 149.1,227.9C150.1,228.2 151.0,228.3 152.1,228.4C153.2,228.5 155.0,228.4 155.6,228.4"/>
<path d="M118.3,226.9C118.5,226.9 118.3,227.0 119.3,227.4C120.4,227.7 122.9,228.5 124.5,228.9C126.0,229.3 127.2,229.7 128.6,229.9C129.9,230.2 131.3,230.4 132.7,230.4C134.0,230.4 135.4,230.3 136.8,229.9C138.1,229.6 139.7,228.8 140.9,228.4C142.1,228.0 142.7,228.1 143.9,227.4C145.1,226.7 146.8,225.2 148.0,224.3C149.2,223.4 150.1,222.8 151.1,221.7C152.1,220.7 153.7,218.7 154.2,218.2"/>
<path d="M121.4,212.5C121.7,212.4 122.6,211.6 123.4,212.0C124.3,212.4 125.5,214.0 126.5,215.1C127.5,216.1 128.6,217.3 129.6,218.2C130.6,219.0 131.6,220.4 132.7,220.2C133.7,220.0 134.7,218.1 135.7,217.1C136.8,216.1 138.0,214.9 138.8,214.1C139.6,213.2 139.8,212.3 140.3,212.0C140.9,211.7 141.6,212.0 141.9,212.0"/>
<path d="M140.3,212.0C140.6,212.0 141.0,211.1 141.9,212.0C142.8,212.9 144.8,215.6 146.0,217.1C147.2,218.7 148.0,220.0 149.1,221.2C150.1,222.4 151.1,223.3 152.1,224.3C153.2,225.3 154.3,226.0 155.2,227.4C156.1,228.7 156.6,231.1 157.2,232.5C157.9,233.9 158.7,234.5 159.3,235.6C159.9,236.6 160.0,238.1 160.8,238.6C161.7,239.2 163.8,238.8 164.4,238.8"/>
<path d="M147.0,211.5C147.2,211.6 147.3,211.4 148.0,212.0C148.7,212.6 150.1,214.0 151.1,215.1C152.1,216.1 153.2,217.3 154.2,218.2C155.2,219.0 156.2,220.2 157.2,220.2C158.3,220.2 159.3,218.8 160.3,218.2C161.4,217.5 162.4,216.6 163.4,216.1C164.4,215.6 165.5,215.4 166.5,215.1C167.5,214.7 168.7,214.6 169.6,214.1C170.4,213.5 171.1,212.4 171.6,212.0C172.1,211.6 172.3,211.5 172.4,211.4"/>
<path d="M153.7,225.8C153.7,225.8 153.4,225.9 154.2,225.3C155.0,224.7 156.9,223.1 158.3,222.2C159.6,221.4 161.0,220.7 162.4,220.2C163.7,219.7 165.1,218.8 166.5,219.2C167.8,219.5 169.2,221.1 170.6,222.2C171.9,223.4 173.3,225.1 174.7,226.3C176.0,227.5 177.4,228.4 178.8,229.4C180.1,230.4 181.5,231.7 182.9,232.5C184.2,233.3 186.3,233.8 187.0,234.0"/>
<path d="M166.3,214.6C166.6,214.5 167.6,213.5 168.5,214.1C169.4,214.6 170.4,217.3 171.6,218.2C172.8,219.0 174.5,219.5 175.7,219.2C176.9,218.8 177.6,217.0 178.8,216.1C180.0,215.2 181.5,214.5 182.9,214.1C184.2,213.6 186.3,213.6 187.0,213.5"/>
<path d="M130.4,241.5C130.4,241.4 130.4,242.0 130.6,241.0C130.8,240.0 131.0,237.2 131.6,235.6C132.3,234.0 133.7,232.3 134.7,231.5C135.7,230.6 136.8,230.4 137.8,230.4C138.8,230.4 139.8,231.0 140.9,231.5C141.9,232.0 143.1,232.7 143.9,233.5C144.8,234.4 145.3,235.6 146.0,236.6C146.7,237.6 147.3,239.1 148.0,239.7C148.7,240.3 149.7,240.1 150.1,240.2"/>
<path d="M115.2,243.4C115.2,243.2 114.9,242.3 115.2,241.7C115.6,241.1 116.4,240.3 117.3,239.7C118.2,239.0 119.3,237.8 120.4,237.6C121.4,237.4 122.4,238.6 123.4,238.6C124.5,238.6 125.7,238.0 126.5,237.6C127.4,237.3 127.7,236.9 128.6,236.6C129.4,236.2 131.0,235.9 131.6,235.6C132.3,235.3 132.1,234.9 132.2,234.8"/>
<path d="M157.2,236.6C157.6,236.8 158.4,237.8 159.3,237.6C160.2,237.4 161.4,236.1 162.4,235.6C163.4,235.1 164.3,234.4 165.4,234.5C166.6,234.7 168.4,236.8 169.6,236.6C170.7,236.4 171.6,234.4 172.6,233.5C173.6,232.7 174.7,231.6 175.7,231.5C176.7,231.3 177.7,231.8 178.8,232.5C179.8,233.2 180.5,234.6 181.8,235.6C183.2,236.5 186.1,237.7 187.0,238.1"/>
<path d="M97.6,245.0C97.8,245.2 98.1,246.2 98.8,246.3C99.6,246.5 100.9,246.0 101.9,245.8C103.0,245.7 104.0,245.0 105.0,245.3C106.0,245.7 107.0,247.4 108.1,247.9C109.1,248.4 110.1,248.8 111.2,248.4C112.2,248.0 113.2,246.8 114.2,245.3C115.2,243.9 116.3,240.9 117.3,239.7C118.3,238.5 119.3,238.2 120.4,238.2C121.4,238.2 122.4,238.7 123.4,239.7C124.5,240.7 125.5,243.9 126.5,244.3C127.5,244.7 128.6,243.1 129.6,242.2C130.6,241.4 131.6,239.8 132.7,239.2C133.7,238.6 134.7,238.5 135.7,238.7C136.8,238.8 137.8,239.5 138.8,240.2C139.8,240.9 140.9,241.6 141.9,242.8C142.9,244.0 144.1,246.3 145.0,247.4C145.8,248.5 146.3,248.6 147.0,249.4C147.7,250.3 148.6,251.8 149.1,252.5C149.5,253.2 149.5,253.3 149.6,253.5"/>
<path d="M115.2,258.8C115.8,258.5 117.5,257.3 118.3,256.6C119.2,255.9 119.5,255.5 120.4,254.5C121.2,253.6 122.4,251.7 123.4,250.9C124.5,250.2 125.5,249.8 126.5,249.9C127.5,250.0 128.6,250.7 129.6,251.5C130.6,252.2 131.6,253.9 132.7,254.5C133.7,255.1 134.7,255.4 135.7,255.1C136.8,254.7 137.8,253.0 138.8,252.5C139.8,252.0 140.9,251.8 141.9,252.0C142.9,252.2 143.9,252.9 145.0,253.5C146.0,254.1 147.0,255.0 148.0,255.6C149.1,256.2 150.3,256.6 151.1,257.1C152.0,257.6 152.8,258.5 153.2,258.8"/>
<path d="M126.5,237.6C126.7,237.5 126.9,237.7 127.5,237.1C128.2,236.5 129.8,234.9 130.6,234.1C131.5,233.2 132.3,232.6 132.7,232.0C133.0,231.4 132.7,230.7 132.7,230.4"/>
<path d="M134.7,231.5C134.7,231.6 134.4,231.4 134.7,232.0C135.1,232.6 135.9,234.4 136.8,235.1C137.6,235.8 138.8,236.3 139.8,236.1C140.9,235.9 142.2,234.7 142.9,234.1C143.6,233.4 143.4,232.3 143.9,232.0C144.4,231.7 145.6,232.0 146.0,232.0"/>
<path d="M140.9,231.5C140.9,231.6 140.5,231.1 140.9,232.0C141.2,232.9 142.2,235.4 142.9,237.1C143.6,238.8 144.3,240.5 145.0,242.2C145.6,244.0 146.3,245.7 147.0,247.4C147.7,249.1 148.4,251.0 149.1,252.5C149.7,254.0 150.4,255.4 151.1,256.6C151.8,257.8 152.8,259.1 153.2,259.7"/>
<path d="M143.9,232.0C144.3,232.0 145.3,231.3 146.0,232.0C146.7,232.7 147.3,234.7 148.0,236.1C148.7,237.5 149.2,239.0 150.1,240.2C150.9,241.4 152.1,242.6 153.2,243.3C154.2,244.0 155.2,243.8 156.2,244.3C157.3,244.8 158.3,245.5 159.3,246.3C160.3,247.2 161.5,248.4 162.4,249.4C163.2,250.4 163.7,251.5 164.4,252.5C165.1,253.5 165.8,254.5 166.5,255.6C167.2,256.6 168.2,258.3 168.5,258.8"/>
<path d="M149.1,238.2C149.2,238.2 149.4,238.3 150.1,238.2C150.8,238.0 152.0,237.4 153.2,237.1C154.4,236.9 156.1,236.6 157.2,236.6C158.4,236.6 159.3,236.9 160.3,237.1C161.4,237.4 162.4,237.6 163.4,238.2C164.4,238.7 165.5,239.5 166.5,240.2C167.5,240.9 168.5,242.2 169.6,242.2C170.6,242.2 171.6,241.1 172.6,240.2C173.6,239.3 174.7,238.0 175.7,237.1C176.7,236.3 177.6,235.6 178.8,235.1C180.0,234.6 181.5,234.3 182.9,234.1C184.2,233.8 186.3,233.6 187.0,233.5"/>
<path d="M146.2,245.3C146.7,245.3 148.1,245.0 149.1,245.3C150.1,245.7 151.1,246.2 152.1,247.4C153.2,248.6 154.3,250.8 155.2,252.5C156.1,254.2 156.7,256.2 157.2,257.6C157.8,259.0 158.1,260.4 158.3,261.0"/>
<path d="M165.1,253.5C165.3,253.3 165.9,253.5 166.5,252.5C167.0,251.5 167.8,249.1 168.5,247.4C169.2,245.7 169.9,243.8 170.6,242.2C171.3,240.7 171.8,239.3 172.6,238.2C173.5,237.0 174.7,235.8 175.7,235.1C176.7,234.4 178.1,234.4 178.8,234.1C179.4,233.7 179.4,233.4 179.5,233.3"/>
<path d="M170.6,258.8C170.9,257.8 171.9,254.4 172.6,252.5C173.3,250.6 174.0,248.7 174.7,247.4C175.4,246.0 175.9,245.0 176.7,244.3C177.6,243.6 178.8,243.6 179.8,243.3C180.8,242.9 181.7,242.8 182.9,242.2C184.1,241.7 186.3,240.5 187.0,240.2"/>
<path d="M175.7,231.5C175.9,231.6 176.0,231.4 176.7,232.0C177.4,232.6 178.8,234.0 179.8,235.1C180.8,236.1 181.7,237.2 182.9,238.2C184.1,239.1 186.3,240.3 187.0,240.7"/>
<path d="M109.1,258.8C109.6,258.7 111.1,258.3 112.2,258.1C113.2,257.9 114.2,257.9 115.2,257.6C116.3,257.4 117.6,256.9 118.3,256.6C119.0,256.2 119.2,255.7 119.3,255.6"/>
</g>
</g>
<rect x="402.5" y="21.5" width="152.0" height="238.0" fill="none" stroke="#262626" stroke-width="1.1"/>
<line x1="402.5" y1="244.62" x2="405.1" y2="244.62" stroke="#262626" stroke-width="1.1"/>
<text x="397.1" y="263.97" font-size="15.6" text-anchor="end" fill="#000">-3</text>
<line x1="402.5" y1="229.75" x2="407.5" y2="229.75" stroke="#262626" stroke-width="1.1"/>
<line x1="402.5" y1="214.88" x2="405.1" y2="214.88" stroke="#262626" stroke-width="1.1"/>
<text x="397.1" y="234.22" font-size="15.6" text-anchor="end" fill="#000">-2</text>
<line x1="402.5" y1="200.00" x2="407.5" y2="200.00" stroke="#262626" stroke-width="1.1"/>
<line x1="402.5" y1="185.12" x2="405.1" y2="185.12" stroke="#262626" stroke-width="1.1"/>
<text x="397.1" y="204.47" font-size="15.6" text-anchor="end" fill="#000">-1</text>
<line x1="402.5" y1="170.25" x2="407.5" y2="170.25" stroke="#262626" stroke-width="1.1"/>
<line x1="402.5" y1="155.38" x2="405.1" y2="155.38" stroke="#262626" stroke-width="1.1"/>
<text x="397.1" y="174.72" font-size="15.6" text-anchor="end" fill="#000">0</text>
<line x1="402.5" y1="140.50" x2="407.5" y2="140.50" stroke="#262626" stroke-width="1.1"/>
<line x1="402.5" y1="125.62" x2="405.1" y2="125.62" stroke="#262626" stroke-width="1.1"/>
<text x="397.1" y="144.97" font-size="15.6" text-anchor="end" fill="#000">1</text>
<line x1="402.5" y1="110.75" x2="407.5" y2="110.75" stroke="#262626" stroke-width="1.1"/>
<line x1="402.5" y1="95.88" x2="405.1" y2="95.88" stroke="#262626" stroke-width="1.1"/>
<text x="397.1" y="115.22" font-size="15.6" text-anchor="end" fill="#000">2</text>
<line x1="402.5" y1="81.00" x2="407.5" y2="81.00" stroke="#262626" stroke-width="1.1"/>
<line x1="402.5" y1="66.12" x2="405.1" y2="66.12" stroke="#262626" stroke-width="1.1"/>
<text x="397.1" y="85.47" font-size="15.6" text-anchor="end" fill="#000">3</text>
<line x1="402.5" y1="51.25" x2="407.5" y2="51.25" stroke="#262626" stroke-width="1.1"/>
<line x1="402.5" y1="36.38" x2="405.1" y2="36.38" stroke="#262626" stroke-width="1.1"/>
<text x="397.1" y="55.72" font-size="15.6" text-anchor="end" fill="#000">4</text>
<text x="397.1" y="25.97" font-size="15.6" text-anchor="end" fill="#000">5</text>
<line x1="414.05" y1="259.5" x2="414.05" y2="256.5" stroke="#262626" stroke-width="1"/>
<line x1="425.60" y1="259.5" x2="425.60" y2="256.5" stroke="#262626" stroke-width="1"/>
<line x1="437.15" y1="259.5" x2="437.15" y2="256.5" stroke="#262626" stroke-width="1"/>
<line x1="448.70" y1="259.5" x2="448.70" y2="256.5" stroke="#262626" stroke-width="1"/>
<line x1="460.25" y1="259.5" x2="460.25" y2="256.5" stroke="#262626" stroke-width="1"/>
<line x1="471.80" y1="259.5" x2="471.80" y2="256.5" stroke="#262626" stroke-width="1"/>
<line x1="483.35" y1="259.5" x2="483.35" y2="256.5" stroke="#262626" stroke-width="1"/>
<line x1="494.90" y1="259.5" x2="494.90" y2="256.5" stroke="#262626" stroke-width="1"/>
<line x1="506.45" y1="259.5" x2="506.45" y2="256.5" stroke="#262626" stroke-width="1"/>
<line x1="518.00" y1="259.5" x2="518.00" y2="256.5" stroke="#262626" stroke-width="1"/>
<line x1="529.55" y1="259.5" x2="529.55" y2="256.5" stroke="#262626" stroke-width="1"/>
<line x1="541.10" y1="259.5" x2="541.10" y2="256.5" stroke="#262626" stroke-width="1"/>
<line x1="552.65" y1="259.5" x2="552.65" y2="256.5" stroke="#262626" stroke-width="1"/>
<text x="402.9" y="272.7" font-size="12.3" text-anchor="middle" fill="#000">G</text>
<text x="417.1" y="272.7" font-size="12.3" text-anchor="middle" fill="#000">Z</text>
<text x="432.3" y="272.7" font-size="12.3" text-anchor="middle" fill="#000">D</text>
<text x="446.0" y="272.7" font-size="12.3" text-anchor="middle" fill="#000">B</text>
<text x="458.8" y="272.7" font-size="12.3" text-anchor="middle" fill="#000">G</text>
<text x="479.4" y="272.7" font-size="12.3" text-anchor="middle" fill="#000">A</text>
<text x="494.2" y="272.7" font-size="12.3" text-anchor="middle" fill="#000">E</text>
<text x="513.4" y="272.7" font-size="12.3" text-anchor="middle" fill="#000">Z</text>
<text x="528.7" y="272.7" font-size="12.3" text-anchor="middle" fill="#000">C</text>
<text x="541.9" y="272.7" font-size="12.3" text-anchor="middle" fill="#000">Y</text>
<text x="556.6" y="272.7" font-size="12.3" text-anchor="middle" fill="#000">G</text>
<text x="396.9" y="16.5" font-size="16" fill="#000" textLength="68" lengthAdjust="spacingAndGlyphs">(c) <tspan font-size="18.5">α=</tspan>0.25</text>
<text x="452.8" y="57.5" font-size="13.6" fill="#000" textLength="27.4" lengthAdjust="spacingAndGlyphs">CBM</text><text x="456.8" y="131.7" font-size="13.6" fill="#000" textLength="27.4" lengthAdjust="spacingAndGlyphs">VBM</text><text x="490.0" y="101.0" font-size="14.6" fill="#000" textLength="39.8" lengthAdjust="spacingAndGlyphs"><tspan font-style="italic">E</tspan><tspan font-size="10.5" dy="3.4">g</tspan><tspan dy="-3.4">=4.11</tspan></text><line x1="480.5" y1="66.8" x2="502.70" y2="58.37" stroke="#ff1a1a" stroke-width="1.5"/><polygon points="511.30,55.10 501.50,63.10 502.70,58.37 498.66,55.62" fill="#ff1a1a"/><line x1="483.8" y1="157.2" x2="503.33" y2="169.58" stroke="#ff1a1a" stroke-width="1.5"/><polygon points="511.10,174.50 498.82,171.46 503.33,169.58 503.10,164.70" fill="#ff1a1a"/>
<text transform="translate(11.6,171.6) rotate(-90)" font-size="15.5" fill="#000"><tspan font-style="italic">E</tspan>-<tspan font-style="italic">E</tspan><tspan font-style="italic" font-size="11" dy="3">f</tspan></text>
<text transform="translate(12,140.5) rotate(-90)" font-size="16.5" fill="#000" textLength="33" lengthAdjust="spacingAndGlyphs">(eV)</text>
<rect x="609.5" y="19.3" width="175.79999999999995" height="222.2" fill="none" stroke="#262626" stroke-width="1.2"/>
<line x1="609.5" y1="225.63" x2="612.1" y2="225.63" stroke="#262626" stroke-width="1.1"/>
<text x="604.0" y="246.10" font-size="15.5" text-anchor="end" fill="#000">3.5</text>
<line x1="609.5" y1="209.76" x2="614.5" y2="209.76" stroke="#262626" stroke-width="1.1"/>
<line x1="609.5" y1="193.89" x2="612.1" y2="193.89" stroke="#262626" stroke-width="1.1"/>
<text x="604.0" y="214.36" font-size="15.5" text-anchor="end" fill="#000">3.6</text>
<line x1="609.5" y1="178.01" x2="614.5" y2="178.01" stroke="#262626" stroke-width="1.1"/>
<line x1="609.5" y1="162.14" x2="612.1" y2="162.14" stroke="#262626" stroke-width="1.1"/>
<text x="604.0" y="182.61" font-size="15.5" text-anchor="end" fill="#000">3.7</text>
<line x1="609.5" y1="146.27" x2="614.5" y2="146.27" stroke="#262626" stroke-width="1.1"/>
<line x1="609.5" y1="130.40" x2="612.1" y2="130.40" stroke="#262626" stroke-width="1.1"/>
<text x="604.0" y="150.87" font-size="15.5" text-anchor="end" fill="#000">3.8</text>
<line x1="609.5" y1="114.53" x2="614.5" y2="114.53" stroke="#262626" stroke-width="1.1"/>
<line x1="609.5" y1="98.66" x2="612.1" y2="98.66" stroke="#262626" stroke-width="1.1"/>
<text x="604.0" y="119.13" font-size="15.5" text-anchor="end" fill="#000">3.9</text>
<line x1="609.5" y1="82.79" x2="614.5" y2="82.79" stroke="#262626" stroke-width="1.1"/>
<line x1="609.5" y1="66.91" x2="612.1" y2="66.91" stroke="#262626" stroke-width="1.1"/>
<text x="604.0" y="87.39" font-size="15.5" text-anchor="end" fill="#000">4.0</text>
<line x1="609.5" y1="51.04" x2="614.5" y2="51.04" stroke="#262626" stroke-width="1.1"/>
<line x1="609.5" y1="35.17" x2="612.1" y2="35.17" stroke="#262626" stroke-width="1.1"/>
<text x="604.0" y="55.64" font-size="15.5" text-anchor="end" fill="#000">4.1</text>
<text x="604.0" y="23.90" font-size="15.5" text-anchor="end" fill="#000">4.2</text>
<line x1="636.70" y1="241.5" x2="636.70" y2="236.5" stroke="#262626" stroke-width="1.1"/>
<text x="636.7" y="258.3" font-size="15.5" text-anchor="middle" fill="#000">0.15</text>
<line x1="670.45" y1="241.5" x2="670.45" y2="238.9" stroke="#262626" stroke-width="1.1"/>
<line x1="704.20" y1="241.5" x2="704.20" y2="236.5" stroke="#262626" stroke-width="1.1"/>
<text x="704.2" y="258.3" font-size="15.5" text-anchor="middle" fill="#000">0.20</text>
<line x1="737.95" y1="241.5" x2="737.95" y2="238.9" stroke="#262626" stroke-width="1.1"/>
<line x1="771.70" y1="241.5" x2="771.70" y2="236.5" stroke="#262626" stroke-width="1.1"/>
<text x="771.7" y="258.3" font-size="15.5" text-anchor="middle" fill="#000">0.25</text>
<text x="629.3" y="279" font-size="15.8" fill="#000">Mixing paramater <tspan font-style="italic" font-size="18">α</tspan></text>
<text transform="translate(576.3,192.4) rotate(-90)" font-size="16.8" fill="#000" textLength="79" lengthAdjust="spacingAndGlyphs">Band gap</text>
<text transform="translate(579.5,102.2) rotate(-90)" font-size="16" fill="#000" textLength="26.5" lengthAdjust="spacingAndGlyphs">(eV)</text>
<text x="619.2" y="12.7" font-size="15.6" fill="#000">(d)</text>
<line x1="611.4" y1="156.8" x2="690.70" y2="156.8" stroke="#ff1a1a" stroke-width="2" stroke-dasharray="8.3 7.8"/>
<line x1="691.7" y1="159.7" x2="691.7" y2="241.5" stroke="#ff1a1a" stroke-width="2" stroke-dasharray="8.8 6.2"/>
<text x="619.6" y="152.8" font-size="16" fill="#ff1a1a" style="stroke:#ff1a1a">3.77eV</text>
<text x="694.3" y="231.7" font-size="15.5" fill="#ff1a1a" style="stroke:#ff1a1a" textLength="46" lengthAdjust="spacingAndGlyphs">α=0.19</text>
<polyline points="636.70,225.63 690.70,155.79 771.70,47.87" fill="none" stroke="#0c8c0c" stroke-width="1.9"/>
<rect x="632.70" y="221.63" width="8" height="8" fill="#007800"/>
<rect x="686.70" y="151.79" width="8" height="8" fill="#007800"/>
<rect x="767.70" y="43.87" width="8" height="8" fill="#007800"/>
<line x1="634" y1="36.5" x2="671" y2="36.5" stroke="#0c8c0c" stroke-width="1.9"/>
<rect x="648.8" y="32.3" width="8" height="8" fill="#007800"/>
<text x="674.3" y="41.4" font-size="15.6" fill="#000">ZnWO<tspan font-size="11" dy="3.6">4</tspan></text>
</svg></body></html>
